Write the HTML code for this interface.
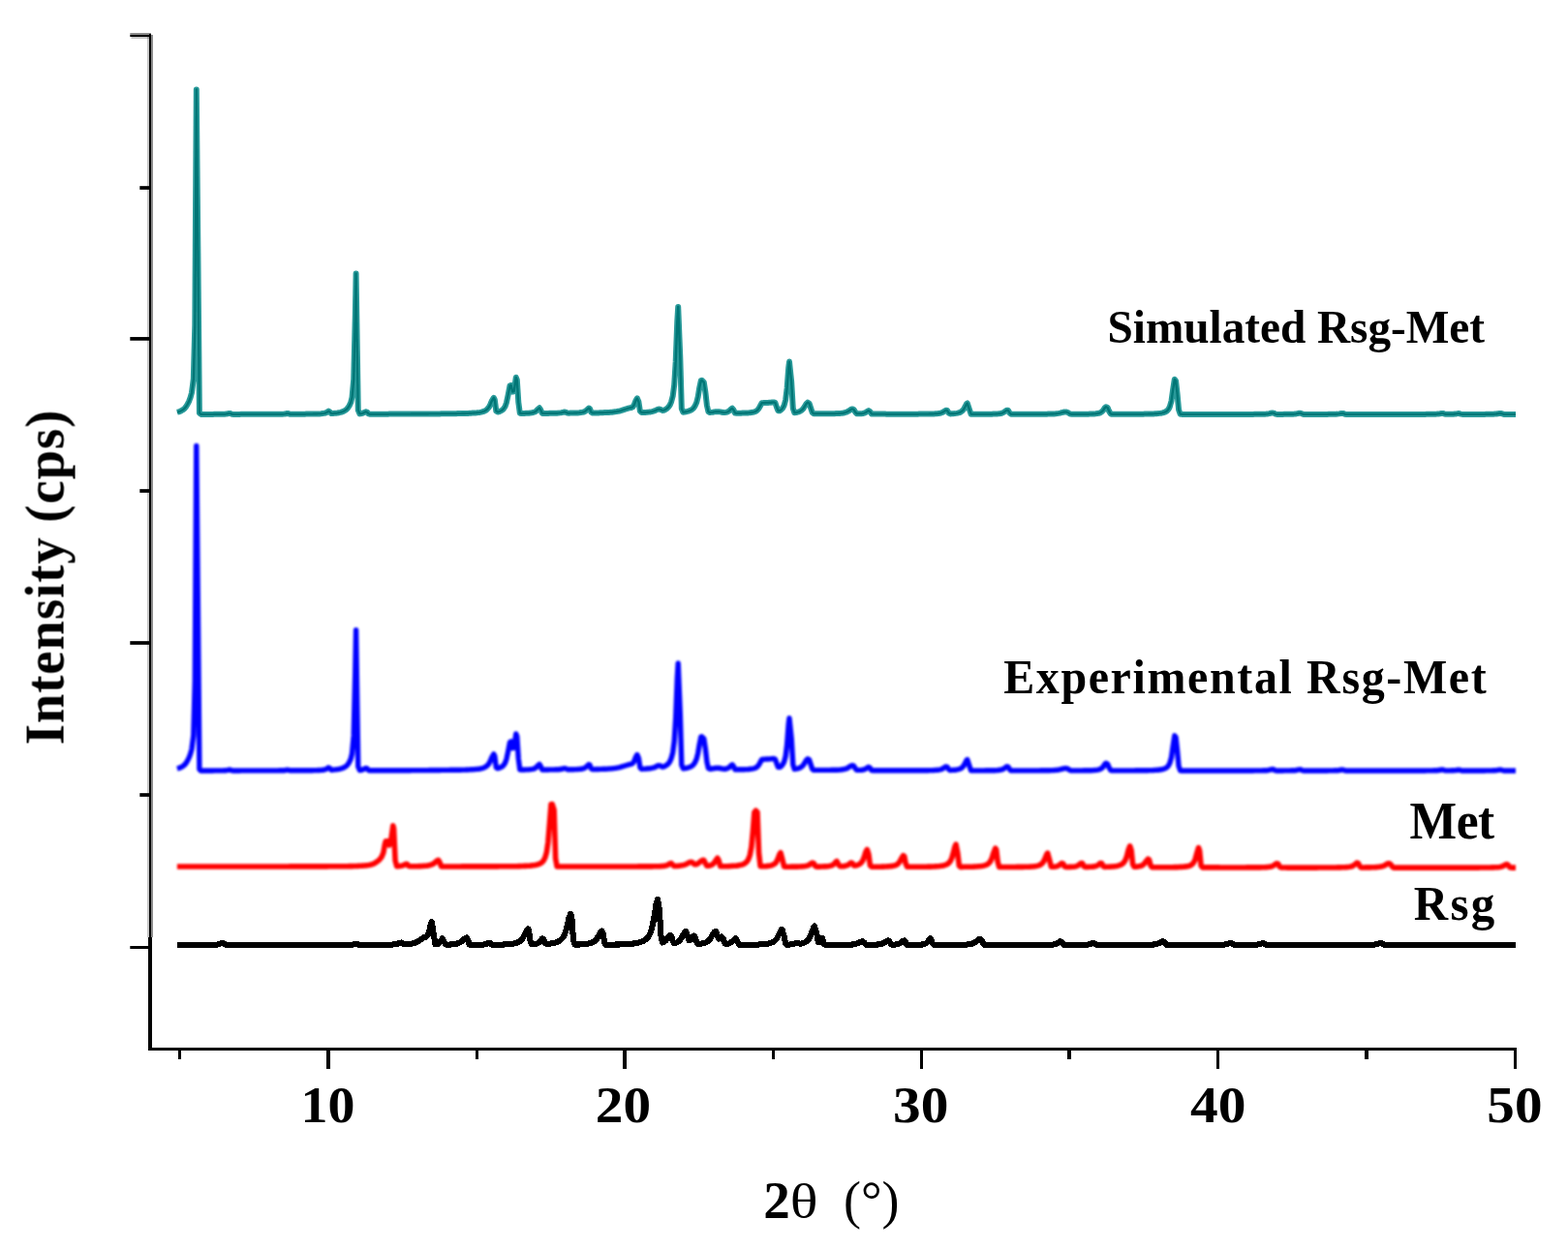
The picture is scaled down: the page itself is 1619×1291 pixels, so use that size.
<!DOCTYPE html>
<html lang="en">
<head>
<meta charset="utf-8">
<title>XRD patterns</title>
<style>
html,body{margin:0;padding:0;background:#fff;}
body{width:1619px;height:1291px;overflow:hidden;}
svg{display:block;}
text{font-family:"Liberation Serif",serif;font-weight:bold;fill:#000;}
.c path{fill:none;stroke-linejoin:round;stroke-linecap:butt;}
</style>
</head>
<body>
<svg width="1619" height="1291" viewBox="0 0 1619 1291">
<rect x="0" y="0" width="1619" height="1291" fill="#ffffff"/>
<g stroke="#000" fill="none" stroke-linecap="butt">
<line x1="153" y1="36.8" x2="153" y2="968" stroke-width="2" stroke-opacity="0.22"/>
<line x1="155" y1="34.9" x2="155" y2="968" stroke-width="2"/>
<line x1="157" y1="36" x2="157" y2="968" stroke-width="2" stroke-opacity="0.45"/>
<line x1="155" y1="968" x2="155" y2="1085" stroke-width="4" shape-rendering="crispEdges"/>
<line x1="153" y1="1083.5" x2="1566" y2="1083.5" stroke-width="3" shape-rendering="crispEdges"/>
<line x1="339.0" y1="1084" x2="339.0" y2="1104.2" stroke-width="3.5" shape-rendering="crispEdges"/>
<line x1="645.0" y1="1084" x2="645.0" y2="1104.2" stroke-width="3.5" shape-rendering="crispEdges"/>
<line x1="951.6" y1="1084" x2="951.6" y2="1104.2" stroke-width="3.5" shape-rendering="crispEdges"/>
<line x1="1257.5" y1="1084" x2="1257.5" y2="1104.2" stroke-width="3.5" shape-rendering="crispEdges"/>
<line x1="1564.5" y1="1084" x2="1564.5" y2="1104.2" stroke-width="3.5" shape-rendering="crispEdges"/>
<line x1="185.5" y1="1084" x2="185.5" y2="1093.6" stroke-width="3.4" shape-rendering="crispEdges"/>
<line x1="492.5" y1="1084" x2="492.5" y2="1093.6" stroke-width="3.4" shape-rendering="crispEdges"/>
<line x1="798.6" y1="1084" x2="798.6" y2="1093.6" stroke-width="3.4" shape-rendering="crispEdges"/>
<line x1="1104.1" y1="1084" x2="1104.1" y2="1093.6" stroke-width="3.4" shape-rendering="crispEdges"/>
<line x1="1411.0" y1="1084" x2="1411.0" y2="1093.6" stroke-width="3.4" shape-rendering="crispEdges"/>
<line x1="134.3" y1="35.0" x2="156" y2="35.0" stroke-width="2" stroke-opacity="0.45"/>
<line x1="134.3" y1="37.0" x2="156" y2="37.0" stroke-width="2"/>
<line x1="135.5" y1="39.0" x2="154" y2="39.0" stroke-width="2" stroke-opacity="0.22"/>
<line x1="134.3" y1="349.9" x2="155" y2="349.9" stroke-width="3.7"/>
<line x1="134.3" y1="664.0" x2="155" y2="664.0" stroke-width="3.7"/>
<line x1="134.3" y1="978.5" x2="155" y2="978.5" stroke-width="3"/>
<line x1="144.3" y1="194.0" x2="155" y2="194.0" stroke-width="3.7"/>
<line x1="144.3" y1="507.0" x2="155" y2="507.0" stroke-width="3.7"/>
<line x1="144.3" y1="821.0" x2="155" y2="821.0" stroke-width="3.7"/>
</g>
<defs>
<filter id="soft" filterUnits="userSpaceOnUse" x="0" y="0" width="1619" height="1291"><feGaussianBlur stdDeviation="0.9"/></filter>
<filter id="soft2" filterUnits="userSpaceOnUse" x="0" y="0" width="1619" height="1291"><feGaussianBlur stdDeviation="0.45"/></filter>
</defs>
<g class="c">
<g filter="url(#soft2)">
<path d="M182.9,425.7 L184.4,425.3 L186.0,424.8 L187.5,424.0 L189.0,423.1 L190.6,421.8 L192.1,420.0 L193.6,417.5 L195.2,414.3 L196.7,410.3 L198.0,405.5 L199.8,391.3 L201.3,335.7 L202.8,92.4 L204.4,261.0 L205.9,426.5 L207.4,427.9 L208.9,427.9 L210.5,427.9 L212.0,427.9 L213.5,427.9 L215.1,427.9 L216.6,427.9 L218.1,427.9 L219.7,427.9 L221.2,427.8 L222.7,427.8 L224.3,427.8 L225.8,427.8 L227.3,427.8 L228.9,427.8 L230.4,427.8 L231.9,427.7 L233.5,427.6 L235.0,427.3 L236.5,426.9 L238.1,427.1 L239.6,427.8 L241.1,427.9 L242.7,427.9 L244.2,427.9 L245.7,427.9 L247.3,427.9 L248.8,427.8 L250.3,427.8 L251.8,427.8 L253.4,427.8 L254.9,427.8 L256.4,427.8 L258.0,427.8 L259.5,427.8 L261.0,427.8 L262.6,427.8 L264.1,427.8 L265.6,427.8 L267.2,427.8 L268.7,427.8 L270.2,427.8 L271.8,427.8 L273.3,427.8 L274.8,427.8 L276.4,427.8 L277.9,427.8 L279.4,427.8 L281.0,427.8 L282.5,427.8 L284.0,427.8 L285.6,427.8 L287.1,427.8 L288.6,427.7 L290.2,427.7 L291.7,427.7 L293.2,427.6 L294.8,427.4 L296.3,427.0 L297.8,427.1 L299.3,427.7 L300.9,427.7 L302.4,427.7 L303.9,427.7 L305.5,427.7 L307.0,427.7 L308.5,427.7 L310.1,427.7 L311.6,427.7 L313.1,427.7 L314.7,427.7 L316.2,427.6 L317.7,427.6 L319.3,427.6 L320.8,427.6 L322.3,427.6 L323.9,427.5 L325.4,427.5 L326.9,427.5 L328.5,427.4 L330.0,427.4 L331.5,427.3 L333.1,427.1 L334.6,426.9 L336.1,426.5 L337.7,425.7 L339.2,424.6 L340.7,425.5 L342.2,427.1 L343.8,427.0 L345.3,426.8 L346.8,426.7 L348.4,426.5 L349.9,426.2 L351.4,425.9 L353.0,425.5 L354.5,424.9 L356.0,424.1 L357.6,423.0 L359.1,421.4 L360.6,419.1 L362.2,415.7 L363.5,410.4 L365.2,391.8 L366.8,325.8 L367.6,282.5 L369.8,423.6 L371.4,427.4 L372.9,427.2 L374.4,426.8 L376.0,426.1 L377.5,425.3 L379.0,425.6 L380.6,427.4 L382.1,427.7 L383.6,427.7 L385.2,427.7 L386.7,427.7 L388.2,427.7 L389.7,427.7 L391.3,427.7 L392.8,427.7 L394.3,427.7 L395.9,427.7 L397.4,427.7 L398.9,427.7 L400.5,427.7 L402.0,427.6 L403.5,427.6 L405.1,427.6 L406.6,427.6 L408.1,427.6 L409.7,427.6 L411.2,427.6 L412.7,427.6 L414.3,427.6 L415.8,427.6 L417.3,427.6 L418.9,427.6 L420.4,427.6 L421.9,427.6 L423.5,427.6 L425.0,427.5 L426.5,427.5 L428.1,427.5 L429.6,427.5 L431.1,427.5 L432.6,427.5 L434.2,427.5 L435.7,427.5 L437.2,427.5 L438.8,427.5 L440.3,427.5 L441.8,427.5 L443.4,427.4 L444.9,427.4 L446.4,427.4 L448.0,427.4 L449.5,427.4 L451.0,427.4 L452.6,427.4 L454.1,427.4 L455.6,427.3 L457.2,427.3 L458.7,427.3 L460.2,427.3 L461.8,427.3 L463.3,427.3 L464.8,427.2 L466.4,427.2 L467.9,427.2 L469.4,427.2 L471.0,427.2 L472.5,427.1 L474.0,427.1 L475.6,427.1 L477.1,427.0 L478.6,427.0 L480.1,427.0 L481.7,426.9 L483.2,426.9 L484.7,426.8 L486.3,426.7 L487.8,426.6 L489.3,426.5 L490.9,426.4 L492.4,426.3 L493.9,426.1 L495.5,425.9 L497.0,425.6 L498.5,425.2 L500.1,424.6 L501.6,423.8 L503.1,422.6 L504.7,420.8 L506.2,418.0 L507.7,414.3 L509.8,410.8 L510.8,412.8 L512.3,424.5 L513.9,425.5 L515.4,425.1 L516.9,424.5 L518.5,423.6 L520.0,422.2 L521.5,419.9 L523.0,415.7 L524.6,408.1 L526.5,398.4 L527.6,397.8 L529.2,404.6 L530.7,404.1 L532.8,389.8 L533.8,392.3 L535.3,415.4 L536.8,426.7 L538.4,427.0 L539.9,426.9 L541.4,426.9 L543.0,426.8 L544.5,426.8 L546.0,426.7 L547.6,426.5 L549.1,426.3 L550.6,426.0 L552.2,425.5 L553.7,424.5 L555.2,422.8 L557.0,421.3 L558.3,423.4 L559.8,426.9 L561.4,426.9 L562.9,426.9 L564.4,426.9 L565.9,426.9 L567.5,426.8 L569.0,426.8 L570.5,426.8 L572.1,426.8 L573.6,426.7 L575.1,426.7 L576.7,426.6 L578.2,426.4 L579.7,426.2 L581.3,425.8 L582.8,425.4 L584.3,425.8 L585.9,426.6 L587.4,426.7 L588.9,426.6 L590.5,426.6 L592.0,426.6 L593.5,426.5 L595.1,426.5 L596.6,426.4 L598.1,426.3 L599.7,426.1 L601.2,425.9 L602.7,425.5 L604.3,424.7 L605.8,423.4 L608.0,421.5 L608.9,421.9 L610.4,425.7 L611.9,426.5 L613.4,426.5 L615.0,426.4 L616.5,426.4 L618.0,426.4 L619.6,426.3 L621.1,426.3 L622.6,426.2 L624.2,426.1 L625.7,426.1 L627.2,426.0 L628.8,425.9 L630.3,425.8 L631.8,425.7 L633.4,425.5 L634.9,425.3 L636.4,425.1 L638.0,424.8 L639.5,424.5 L641.0,424.1 L642.6,423.6 L644.1,423.1 L645.6,422.6 L647.2,422.2 L648.7,421.7 L650.2,421.3 L651.8,421.0 L653.3,420.3 L654.8,418.0 L656.3,414.0 L657.9,411.4 L659.4,414.9 L660.9,424.6 L662.5,426.1 L664.0,426.0 L665.5,426.0 L667.1,425.9 L668.6,425.7 L670.1,425.6 L671.7,425.4 L673.2,425.1 L674.7,424.7 L676.3,424.2 L677.8,423.4 L679.3,422.7 L680.9,422.5 L682.4,423.1 L683.9,423.9 L685.5,423.7 L687.0,423.0 L688.5,422.0 L690.1,420.6 L691.6,418.5 L693.1,415.1 L694.7,409.1 L696.2,397.5 L697.7,373.4 L699.3,331.7 L700.2,316.9 L702.3,369.1 L703.8,422.0 L705.4,425.7 L706.9,425.5 L708.4,425.2 L710.0,424.9 L711.5,424.4 L713.0,423.8 L714.6,422.9 L716.1,421.5 L717.6,419.3 L719.2,415.8 L720.7,409.7 L722.2,400.6 L723.8,393.0 L724.6,392.7 L726.8,394.9 L728.4,405.3 L729.9,418.7 L731.4,425.2 L733.0,426.1 L734.5,425.9 L736.0,425.7 L737.6,425.4 L739.1,425.2 L740.6,425.2 L742.2,425.2 L743.7,425.4 L745.2,425.7 L746.7,426.0 L748.3,426.1 L749.8,425.9 L751.3,425.4 L752.9,424.5 L754.4,422.9 L756.0,421.7 L757.5,423.5 L759.0,426.6 L760.5,426.8 L762.1,426.7 L763.6,426.7 L765.1,426.7 L766.7,426.6 L768.2,426.6 L769.7,426.5 L771.3,426.5 L772.8,426.4 L774.3,426.2 L775.9,426.0 L777.4,425.8 L778.9,425.4 L780.5,424.8 L782.0,423.7 L783.5,421.9 L785.1,419.0 L786.6,416.3 L788.1,416.1 L789.7,416.0 L791.2,415.9 L793.0,415.9 L794.2,415.8 L795.8,415.7 L797.3,415.5 L798.8,415.4 L800.4,415.9 L801.9,420.4 L803.4,424.2 L805.0,424.3 L806.5,423.3 L808.0,421.7 L809.6,418.8 L811.1,413.2 L812.6,401.0 L814.2,379.8 L815.0,373.6 L817.2,394.6 L818.8,421.8 L820.3,426.2 L821.8,426.0 L823.4,425.7 L824.9,425.3 L826.4,424.6 L828.0,423.5 L829.5,421.9 L831.0,419.5 L832.6,416.9 L834.0,415.6 L835.6,416.7 L837.1,421.3 L838.7,426.0 L840.2,427.3 L841.7,427.3 L843.3,427.3 L844.8,427.3 L846.3,427.3 L847.9,427.3 L849.4,427.3 L850.9,427.3 L852.5,427.3 L854.0,427.3 L855.5,427.3 L857.1,427.3 L858.6,427.2 L860.1,427.2 L861.7,427.2 L863.2,427.1 L864.7,427.1 L866.3,427.0 L867.8,426.9 L869.3,426.7 L870.9,426.5 L872.4,426.1 L873.9,425.7 L875.5,424.9 L877.0,423.9 L878.5,422.9 L880.0,422.4 L881.6,423.0 L883.1,425.6 L884.6,427.2 L886.2,427.3 L887.7,427.3 L889.2,427.2 L890.8,427.0 L892.3,426.6 L893.8,426.0 L895.4,424.9 L896.9,424.1 L898.4,425.2 L900.0,427.5 L901.5,427.6 L903.0,427.6 L904.6,427.6 L906.1,427.6 L907.6,427.6 L909.2,427.6 L910.7,427.6 L912.2,427.6 L913.8,427.6 L915.3,427.7 L916.8,427.7 L918.4,427.7 L919.9,427.7 L921.4,427.7 L923.0,427.7 L924.5,427.7 L926.0,427.7 L927.5,427.7 L929.1,427.7 L930.6,427.7 L932.1,427.7 L933.7,427.7 L935.2,427.7 L936.7,427.7 L938.3,427.7 L939.8,427.7 L941.3,427.7 L942.9,427.7 L944.4,427.7 L945.9,427.7 L947.5,427.7 L949.0,427.6 L950.5,427.6 L952.1,427.6 L953.6,427.6 L955.1,427.6 L956.7,427.6 L958.2,427.6 L959.7,427.5 L961.3,427.5 L962.8,427.5 L964.3,427.4 L965.9,427.3 L967.4,427.2 L968.9,427.1 L970.5,426.8 L972.0,426.4 L973.5,425.7 L975.0,424.7 L976.6,423.7 L978.1,424.0 L979.6,426.6 L981.2,427.4 L982.7,427.3 L984.2,427.2 L985.8,427.1 L987.3,426.9 L988.8,426.6 L990.4,426.2 L991.9,425.6 L993.4,424.6 L995.0,422.8 L996.5,420.0 L998.0,417.0 L998.8,416.5 L1001.1,423.4 L1002.6,427.7 L1004.2,427.8 L1005.7,427.8 L1007.2,427.8 L1008.8,427.8 L1010.3,427.8 L1011.8,427.8 L1013.4,427.8 L1014.9,427.8 L1016.4,427.8 L1017.9,427.7 L1019.5,427.7 L1021.0,427.7 L1022.5,427.7 L1024.1,427.7 L1025.6,427.6 L1027.1,427.6 L1028.7,427.5 L1030.2,427.4 L1031.7,427.2 L1033.3,427.0 L1034.8,426.6 L1036.3,425.9 L1037.9,424.8 L1039.4,423.7 L1040.9,423.8 L1042.5,426.5 L1044.0,427.8 L1045.5,427.8 L1047.1,427.8 L1048.6,427.8 L1050.1,427.8 L1051.7,427.8 L1053.2,427.8 L1054.7,427.8 L1056.3,427.8 L1057.8,427.8 L1059.3,427.8 L1060.9,427.8 L1062.4,427.8 L1063.9,427.8 L1065.4,427.8 L1067.0,427.8 L1068.5,427.8 L1070.0,427.8 L1071.6,427.8 L1073.1,427.8 L1074.6,427.7 L1076.2,427.7 L1077.7,427.7 L1079.2,427.7 L1080.8,427.7 L1082.3,427.6 L1083.8,427.6 L1085.4,427.5 L1086.9,427.5 L1088.4,427.4 L1090.0,427.3 L1091.5,427.1 L1093.0,426.9 L1094.6,426.6 L1096.1,426.2 L1097.6,425.8 L1099.2,425.5 L1100.7,425.4 L1102.2,425.8 L1103.8,426.8 L1105.3,427.6 L1106.8,427.8 L1108.3,427.8 L1109.9,427.8 L1111.4,427.8 L1112.9,427.8 L1114.5,427.8 L1116.0,427.8 L1117.5,427.8 L1119.1,427.7 L1120.6,427.7 L1122.1,427.7 L1123.7,427.7 L1125.2,427.6 L1126.7,427.6 L1128.3,427.5 L1129.8,427.4 L1131.3,427.3 L1132.9,427.1 L1134.4,426.8 L1135.9,426.3 L1137.5,425.4 L1139.0,423.9 L1140.5,421.5 L1141.9,420.2 L1143.6,421.0 L1145.1,424.6 L1146.7,427.3 L1148.2,427.8 L1149.7,427.8 L1151.3,427.8 L1152.8,427.8 L1154.3,427.8 L1155.8,427.8 L1157.4,427.8 L1158.9,427.8 L1160.4,427.8 L1162.0,427.8 L1163.5,427.8 L1165.0,427.8 L1166.6,427.8 L1168.1,427.8 L1169.6,427.8 L1171.2,427.8 L1172.7,427.7 L1174.2,427.7 L1175.8,427.7 L1177.3,427.7 L1178.8,427.7 L1180.4,427.7 L1181.9,427.6 L1183.4,427.6 L1185.0,427.6 L1186.5,427.5 L1188.0,427.5 L1189.6,427.5 L1191.1,427.4 L1192.6,427.3 L1194.2,427.2 L1195.7,427.1 L1197.2,426.9 L1198.7,426.7 L1200.3,426.4 L1201.8,426.0 L1203.3,425.4 L1204.9,424.4 L1206.4,422.8 L1207.9,419.8 L1209.5,414.2 L1211.0,403.4 L1212.8,391.7 L1214.1,393.5 L1215.6,407.2 L1217.1,423.3 L1218.7,427.7 L1220.2,427.9 L1221.7,427.9 L1223.3,427.9 L1224.8,427.9 L1226.3,427.9 L1227.9,427.9 L1229.4,427.9 L1230.9,427.9 L1232.5,427.9 L1234.0,427.9 L1235.5,427.9 L1237.1,427.9 L1238.6,427.9 L1240.1,427.9 L1241.7,427.9 L1243.2,427.9 L1244.7,427.9 L1246.2,427.9 L1247.8,427.9 L1249.3,427.9 L1250.8,427.9 L1252.4,427.9 L1253.9,427.9 L1255.4,427.9 L1257.0,427.9 L1258.5,427.9 L1260.0,427.9 L1261.6,427.9 L1263.1,427.9 L1264.6,427.9 L1266.2,427.9 L1267.7,427.9 L1269.2,427.9 L1270.8,427.9 L1272.3,427.9 L1273.8,427.9 L1275.4,427.9 L1276.9,427.9 L1278.4,427.9 L1280.0,427.9 L1281.5,427.9 L1283.0,427.9 L1284.6,427.9 L1286.1,427.9 L1287.6,427.9 L1289.1,427.9 L1290.7,427.9 L1292.2,427.9 L1293.7,427.9 L1295.3,427.8 L1296.8,427.8 L1298.3,427.8 L1299.9,427.8 L1301.4,427.8 L1302.9,427.8 L1304.5,427.7 L1306.0,427.7 L1307.5,427.6 L1309.1,427.4 L1310.6,427.1 L1312.1,426.7 L1313.7,426.4 L1315.2,426.6 L1316.7,427.6 L1318.3,427.9 L1319.8,427.9 L1321.3,427.9 L1322.9,427.9 L1324.4,427.9 L1325.9,427.8 L1327.5,427.8 L1329.0,427.8 L1330.5,427.8 L1332.1,427.8 L1333.6,427.7 L1335.1,427.7 L1336.6,427.6 L1338.2,427.4 L1339.7,427.1 L1341.2,426.8 L1342.8,426.7 L1344.3,427.4 L1345.8,427.9 L1347.4,427.9 L1348.9,427.9 L1350.4,427.9 L1352.0,427.9 L1353.5,427.9 L1355.0,427.9 L1356.6,427.9 L1358.1,427.9 L1359.6,427.9 L1361.2,427.9 L1362.7,427.9 L1364.2,427.9 L1365.8,427.9 L1367.3,427.9 L1368.8,427.9 L1370.4,427.9 L1371.9,427.8 L1373.4,427.8 L1375.0,427.8 L1376.5,427.8 L1378.0,427.7 L1379.5,427.7 L1381.1,427.6 L1382.6,427.4 L1384.1,427.1 L1385.7,426.9 L1387.2,427.0 L1388.7,427.7 L1390.3,427.9 L1391.8,427.9 L1393.3,427.9 L1394.9,427.9 L1396.4,427.9 L1397.9,427.9 L1399.5,427.9 L1401.0,427.9 L1402.5,427.9 L1404.1,427.9 L1405.6,427.9 L1407.1,427.9 L1408.7,427.9 L1410.2,427.9 L1411.7,427.9 L1413.3,427.9 L1414.8,427.9 L1416.3,427.9 L1417.9,427.9 L1419.4,427.9 L1420.9,427.9 L1422.4,427.9 L1424.0,427.9 L1425.5,427.9 L1427.0,427.9 L1428.6,427.9 L1430.1,427.9 L1431.6,427.9 L1433.2,427.9 L1434.7,427.9 L1436.2,427.9 L1437.8,427.9 L1439.3,427.9 L1440.8,427.9 L1442.4,427.9 L1443.9,427.9 L1445.4,427.9 L1447.0,427.9 L1448.5,427.9 L1450.0,427.9 L1451.6,427.9 L1453.1,427.9 L1454.6,427.9 L1456.2,427.9 L1457.7,427.9 L1459.2,427.9 L1460.8,427.9 L1462.3,427.9 L1463.8,427.9 L1465.4,427.9 L1466.9,427.9 L1468.4,427.9 L1469.9,427.9 L1471.5,427.9 L1473.0,427.8 L1474.5,427.8 L1476.1,427.8 L1477.6,427.8 L1479.1,427.8 L1480.7,427.7 L1482.2,427.7 L1483.7,427.6 L1485.3,427.4 L1486.8,427.2 L1488.3,426.9 L1489.9,426.9 L1491.4,427.5 L1492.9,427.8 L1494.5,427.8 L1496.0,427.8 L1497.5,427.8 L1499.1,427.7 L1500.6,427.7 L1502.1,427.5 L1503.7,427.4 L1505.2,427.1 L1506.7,427.1 L1508.3,427.6 L1509.8,427.9 L1511.3,427.9 L1512.8,427.9 L1514.4,427.9 L1515.9,427.9 L1517.4,427.9 L1519.0,427.9 L1520.5,427.9 L1522.0,427.9 L1523.6,427.9 L1525.1,427.9 L1526.6,427.9 L1528.2,427.9 L1529.7,427.9 L1531.2,427.9 L1532.8,427.9 L1534.3,427.8 L1535.8,427.8 L1537.4,427.8 L1538.9,427.8 L1540.4,427.8 L1542.0,427.7 L1543.5,427.6 L1545.0,427.5 L1546.6,427.2 L1548.1,427.0 L1549.6,426.9 L1551.2,427.4 L1552.7,427.9 L1554.2,427.9 L1555.8,427.9 L1557.3,427.9 L1558.8,427.9 L1560.3,427.9 L1561.9,427.9 L1563.4,427.9 L1564.9,427.9 L1565.0,427.9" stroke="#2a9a9a" stroke-width="6"/>
<path d="M182.9,425.7 L184.4,425.3 L186.0,424.8 L187.5,424.0 L189.0,423.1 L190.6,421.8 L192.1,420.0 L193.6,417.5 L195.2,414.3 L196.7,410.3 L198.0,405.5 L199.8,391.3 L201.3,335.7 L202.8,92.4 L204.4,261.0 L205.9,426.5 L207.4,427.9 L208.9,427.9 L210.5,427.9 L212.0,427.9 L213.5,427.9 L215.1,427.9 L216.6,427.9 L218.1,427.9 L219.7,427.9 L221.2,427.8 L222.7,427.8 L224.3,427.8 L225.8,427.8 L227.3,427.8 L228.9,427.8 L230.4,427.8 L231.9,427.7 L233.5,427.6 L235.0,427.3 L236.5,426.9 L238.1,427.1 L239.6,427.8 L241.1,427.9 L242.7,427.9 L244.2,427.9 L245.7,427.9 L247.3,427.9 L248.8,427.8 L250.3,427.8 L251.8,427.8 L253.4,427.8 L254.9,427.8 L256.4,427.8 L258.0,427.8 L259.5,427.8 L261.0,427.8 L262.6,427.8 L264.1,427.8 L265.6,427.8 L267.2,427.8 L268.7,427.8 L270.2,427.8 L271.8,427.8 L273.3,427.8 L274.8,427.8 L276.4,427.8 L277.9,427.8 L279.4,427.8 L281.0,427.8 L282.5,427.8 L284.0,427.8 L285.6,427.8 L287.1,427.8 L288.6,427.7 L290.2,427.7 L291.7,427.7 L293.2,427.6 L294.8,427.4 L296.3,427.0 L297.8,427.1 L299.3,427.7 L300.9,427.7 L302.4,427.7 L303.9,427.7 L305.5,427.7 L307.0,427.7 L308.5,427.7 L310.1,427.7 L311.6,427.7 L313.1,427.7 L314.7,427.7 L316.2,427.6 L317.7,427.6 L319.3,427.6 L320.8,427.6 L322.3,427.6 L323.9,427.5 L325.4,427.5 L326.9,427.5 L328.5,427.4 L330.0,427.4 L331.5,427.3 L333.1,427.1 L334.6,426.9 L336.1,426.5 L337.7,425.7 L339.2,424.6 L340.7,425.5 L342.2,427.1 L343.8,427.0 L345.3,426.8 L346.8,426.7 L348.4,426.5 L349.9,426.2 L351.4,425.9 L353.0,425.5 L354.5,424.9 L356.0,424.1 L357.6,423.0 L359.1,421.4 L360.6,419.1 L362.2,415.7 L363.5,410.4 L365.2,391.8 L366.8,325.8 L367.6,282.5 L369.8,423.6 L371.4,427.4 L372.9,427.2 L374.4,426.8 L376.0,426.1 L377.5,425.3 L379.0,425.6 L380.6,427.4 L382.1,427.7 L383.6,427.7 L385.2,427.7 L386.7,427.7 L388.2,427.7 L389.7,427.7 L391.3,427.7 L392.8,427.7 L394.3,427.7 L395.9,427.7 L397.4,427.7 L398.9,427.7 L400.5,427.7 L402.0,427.6 L403.5,427.6 L405.1,427.6 L406.6,427.6 L408.1,427.6 L409.7,427.6 L411.2,427.6 L412.7,427.6 L414.3,427.6 L415.8,427.6 L417.3,427.6 L418.9,427.6 L420.4,427.6 L421.9,427.6 L423.5,427.6 L425.0,427.5 L426.5,427.5 L428.1,427.5 L429.6,427.5 L431.1,427.5 L432.6,427.5 L434.2,427.5 L435.7,427.5 L437.2,427.5 L438.8,427.5 L440.3,427.5 L441.8,427.5 L443.4,427.4 L444.9,427.4 L446.4,427.4 L448.0,427.4 L449.5,427.4 L451.0,427.4 L452.6,427.4 L454.1,427.4 L455.6,427.3 L457.2,427.3 L458.7,427.3 L460.2,427.3 L461.8,427.3 L463.3,427.3 L464.8,427.2 L466.4,427.2 L467.9,427.2 L469.4,427.2 L471.0,427.2 L472.5,427.1 L474.0,427.1 L475.6,427.1 L477.1,427.0 L478.6,427.0 L480.1,427.0 L481.7,426.9 L483.2,426.9 L484.7,426.8 L486.3,426.7 L487.8,426.6 L489.3,426.5 L490.9,426.4 L492.4,426.3 L493.9,426.1 L495.5,425.9 L497.0,425.6 L498.5,425.2 L500.1,424.6 L501.6,423.8 L503.1,422.6 L504.7,420.8 L506.2,418.0 L507.7,414.3 L509.8,410.8 L510.8,412.8 L512.3,424.5 L513.9,425.5 L515.4,425.1 L516.9,424.5 L518.5,423.6 L520.0,422.2 L521.5,419.9 L523.0,415.7 L524.6,408.1 L526.5,398.4 L527.6,397.8 L529.2,404.6 L530.7,404.1 L532.8,389.8 L533.8,392.3 L535.3,415.4 L536.8,426.7 L538.4,427.0 L539.9,426.9 L541.4,426.9 L543.0,426.8 L544.5,426.8 L546.0,426.7 L547.6,426.5 L549.1,426.3 L550.6,426.0 L552.2,425.5 L553.7,424.5 L555.2,422.8 L557.0,421.3 L558.3,423.4 L559.8,426.9 L561.4,426.9 L562.9,426.9 L564.4,426.9 L565.9,426.9 L567.5,426.8 L569.0,426.8 L570.5,426.8 L572.1,426.8 L573.6,426.7 L575.1,426.7 L576.7,426.6 L578.2,426.4 L579.7,426.2 L581.3,425.8 L582.8,425.4 L584.3,425.8 L585.9,426.6 L587.4,426.7 L588.9,426.6 L590.5,426.6 L592.0,426.6 L593.5,426.5 L595.1,426.5 L596.6,426.4 L598.1,426.3 L599.7,426.1 L601.2,425.9 L602.7,425.5 L604.3,424.7 L605.8,423.4 L608.0,421.5 L608.9,421.9 L610.4,425.7 L611.9,426.5 L613.4,426.5 L615.0,426.4 L616.5,426.4 L618.0,426.4 L619.6,426.3 L621.1,426.3 L622.6,426.2 L624.2,426.1 L625.7,426.1 L627.2,426.0 L628.8,425.9 L630.3,425.8 L631.8,425.7 L633.4,425.5 L634.9,425.3 L636.4,425.1 L638.0,424.8 L639.5,424.5 L641.0,424.1 L642.6,423.6 L644.1,423.1 L645.6,422.6 L647.2,422.2 L648.7,421.7 L650.2,421.3 L651.8,421.0 L653.3,420.3 L654.8,418.0 L656.3,414.0 L657.9,411.4 L659.4,414.9 L660.9,424.6 L662.5,426.1 L664.0,426.0 L665.5,426.0 L667.1,425.9 L668.6,425.7 L670.1,425.6 L671.7,425.4 L673.2,425.1 L674.7,424.7 L676.3,424.2 L677.8,423.4 L679.3,422.7 L680.9,422.5 L682.4,423.1 L683.9,423.9 L685.5,423.7 L687.0,423.0 L688.5,422.0 L690.1,420.6 L691.6,418.5 L693.1,415.1 L694.7,409.1 L696.2,397.5 L697.7,373.4 L699.3,331.7 L700.2,316.9 L702.3,369.1 L703.8,422.0 L705.4,425.7 L706.9,425.5 L708.4,425.2 L710.0,424.9 L711.5,424.4 L713.0,423.8 L714.6,422.9 L716.1,421.5 L717.6,419.3 L719.2,415.8 L720.7,409.7 L722.2,400.6 L723.8,393.0 L724.6,392.7 L726.8,394.9 L728.4,405.3 L729.9,418.7 L731.4,425.2 L733.0,426.1 L734.5,425.9 L736.0,425.7 L737.6,425.4 L739.1,425.2 L740.6,425.2 L742.2,425.2 L743.7,425.4 L745.2,425.7 L746.7,426.0 L748.3,426.1 L749.8,425.9 L751.3,425.4 L752.9,424.5 L754.4,422.9 L756.0,421.7 L757.5,423.5 L759.0,426.6 L760.5,426.8 L762.1,426.7 L763.6,426.7 L765.1,426.7 L766.7,426.6 L768.2,426.6 L769.7,426.5 L771.3,426.5 L772.8,426.4 L774.3,426.2 L775.9,426.0 L777.4,425.8 L778.9,425.4 L780.5,424.8 L782.0,423.7 L783.5,421.9 L785.1,419.0 L786.6,416.3 L788.1,416.1 L789.7,416.0 L791.2,415.9 L793.0,415.9 L794.2,415.8 L795.8,415.7 L797.3,415.5 L798.8,415.4 L800.4,415.9 L801.9,420.4 L803.4,424.2 L805.0,424.3 L806.5,423.3 L808.0,421.7 L809.6,418.8 L811.1,413.2 L812.6,401.0 L814.2,379.8 L815.0,373.6 L817.2,394.6 L818.8,421.8 L820.3,426.2 L821.8,426.0 L823.4,425.7 L824.9,425.3 L826.4,424.6 L828.0,423.5 L829.5,421.9 L831.0,419.5 L832.6,416.9 L834.0,415.6 L835.6,416.7 L837.1,421.3 L838.7,426.0 L840.2,427.3 L841.7,427.3 L843.3,427.3 L844.8,427.3 L846.3,427.3 L847.9,427.3 L849.4,427.3 L850.9,427.3 L852.5,427.3 L854.0,427.3 L855.5,427.3 L857.1,427.3 L858.6,427.2 L860.1,427.2 L861.7,427.2 L863.2,427.1 L864.7,427.1 L866.3,427.0 L867.8,426.9 L869.3,426.7 L870.9,426.5 L872.4,426.1 L873.9,425.7 L875.5,424.9 L877.0,423.9 L878.5,422.9 L880.0,422.4 L881.6,423.0 L883.1,425.6 L884.6,427.2 L886.2,427.3 L887.7,427.3 L889.2,427.2 L890.8,427.0 L892.3,426.6 L893.8,426.0 L895.4,424.9 L896.9,424.1 L898.4,425.2 L900.0,427.5 L901.5,427.6 L903.0,427.6 L904.6,427.6 L906.1,427.6 L907.6,427.6 L909.2,427.6 L910.7,427.6 L912.2,427.6 L913.8,427.6 L915.3,427.7 L916.8,427.7 L918.4,427.7 L919.9,427.7 L921.4,427.7 L923.0,427.7 L924.5,427.7 L926.0,427.7 L927.5,427.7 L929.1,427.7 L930.6,427.7 L932.1,427.7 L933.7,427.7 L935.2,427.7 L936.7,427.7 L938.3,427.7 L939.8,427.7 L941.3,427.7 L942.9,427.7 L944.4,427.7 L945.9,427.7 L947.5,427.7 L949.0,427.6 L950.5,427.6 L952.1,427.6 L953.6,427.6 L955.1,427.6 L956.7,427.6 L958.2,427.6 L959.7,427.5 L961.3,427.5 L962.8,427.5 L964.3,427.4 L965.9,427.3 L967.4,427.2 L968.9,427.1 L970.5,426.8 L972.0,426.4 L973.5,425.7 L975.0,424.7 L976.6,423.7 L978.1,424.0 L979.6,426.6 L981.2,427.4 L982.7,427.3 L984.2,427.2 L985.8,427.1 L987.3,426.9 L988.8,426.6 L990.4,426.2 L991.9,425.6 L993.4,424.6 L995.0,422.8 L996.5,420.0 L998.0,417.0 L998.8,416.5 L1001.1,423.4 L1002.6,427.7 L1004.2,427.8 L1005.7,427.8 L1007.2,427.8 L1008.8,427.8 L1010.3,427.8 L1011.8,427.8 L1013.4,427.8 L1014.9,427.8 L1016.4,427.8 L1017.9,427.7 L1019.5,427.7 L1021.0,427.7 L1022.5,427.7 L1024.1,427.7 L1025.6,427.6 L1027.1,427.6 L1028.7,427.5 L1030.2,427.4 L1031.7,427.2 L1033.3,427.0 L1034.8,426.6 L1036.3,425.9 L1037.9,424.8 L1039.4,423.7 L1040.9,423.8 L1042.5,426.5 L1044.0,427.8 L1045.5,427.8 L1047.1,427.8 L1048.6,427.8 L1050.1,427.8 L1051.7,427.8 L1053.2,427.8 L1054.7,427.8 L1056.3,427.8 L1057.8,427.8 L1059.3,427.8 L1060.9,427.8 L1062.4,427.8 L1063.9,427.8 L1065.4,427.8 L1067.0,427.8 L1068.5,427.8 L1070.0,427.8 L1071.6,427.8 L1073.1,427.8 L1074.6,427.7 L1076.2,427.7 L1077.7,427.7 L1079.2,427.7 L1080.8,427.7 L1082.3,427.6 L1083.8,427.6 L1085.4,427.5 L1086.9,427.5 L1088.4,427.4 L1090.0,427.3 L1091.5,427.1 L1093.0,426.9 L1094.6,426.6 L1096.1,426.2 L1097.6,425.8 L1099.2,425.5 L1100.7,425.4 L1102.2,425.8 L1103.8,426.8 L1105.3,427.6 L1106.8,427.8 L1108.3,427.8 L1109.9,427.8 L1111.4,427.8 L1112.9,427.8 L1114.5,427.8 L1116.0,427.8 L1117.5,427.8 L1119.1,427.7 L1120.6,427.7 L1122.1,427.7 L1123.7,427.7 L1125.2,427.6 L1126.7,427.6 L1128.3,427.5 L1129.8,427.4 L1131.3,427.3 L1132.9,427.1 L1134.4,426.8 L1135.9,426.3 L1137.5,425.4 L1139.0,423.9 L1140.5,421.5 L1141.9,420.2 L1143.6,421.0 L1145.1,424.6 L1146.7,427.3 L1148.2,427.8 L1149.7,427.8 L1151.3,427.8 L1152.8,427.8 L1154.3,427.8 L1155.8,427.8 L1157.4,427.8 L1158.9,427.8 L1160.4,427.8 L1162.0,427.8 L1163.5,427.8 L1165.0,427.8 L1166.6,427.8 L1168.1,427.8 L1169.6,427.8 L1171.2,427.8 L1172.7,427.7 L1174.2,427.7 L1175.8,427.7 L1177.3,427.7 L1178.8,427.7 L1180.4,427.7 L1181.9,427.6 L1183.4,427.6 L1185.0,427.6 L1186.5,427.5 L1188.0,427.5 L1189.6,427.5 L1191.1,427.4 L1192.6,427.3 L1194.2,427.2 L1195.7,427.1 L1197.2,426.9 L1198.7,426.7 L1200.3,426.4 L1201.8,426.0 L1203.3,425.4 L1204.9,424.4 L1206.4,422.8 L1207.9,419.8 L1209.5,414.2 L1211.0,403.4 L1212.8,391.7 L1214.1,393.5 L1215.6,407.2 L1217.1,423.3 L1218.7,427.7 L1220.2,427.9 L1221.7,427.9 L1223.3,427.9 L1224.8,427.9 L1226.3,427.9 L1227.9,427.9 L1229.4,427.9 L1230.9,427.9 L1232.5,427.9 L1234.0,427.9 L1235.5,427.9 L1237.1,427.9 L1238.6,427.9 L1240.1,427.9 L1241.7,427.9 L1243.2,427.9 L1244.7,427.9 L1246.2,427.9 L1247.8,427.9 L1249.3,427.9 L1250.8,427.9 L1252.4,427.9 L1253.9,427.9 L1255.4,427.9 L1257.0,427.9 L1258.5,427.9 L1260.0,427.9 L1261.6,427.9 L1263.1,427.9 L1264.6,427.9 L1266.2,427.9 L1267.7,427.9 L1269.2,427.9 L1270.8,427.9 L1272.3,427.9 L1273.8,427.9 L1275.4,427.9 L1276.9,427.9 L1278.4,427.9 L1280.0,427.9 L1281.5,427.9 L1283.0,427.9 L1284.6,427.9 L1286.1,427.9 L1287.6,427.9 L1289.1,427.9 L1290.7,427.9 L1292.2,427.9 L1293.7,427.9 L1295.3,427.8 L1296.8,427.8 L1298.3,427.8 L1299.9,427.8 L1301.4,427.8 L1302.9,427.8 L1304.5,427.7 L1306.0,427.7 L1307.5,427.6 L1309.1,427.4 L1310.6,427.1 L1312.1,426.7 L1313.7,426.4 L1315.2,426.6 L1316.7,427.6 L1318.3,427.9 L1319.8,427.9 L1321.3,427.9 L1322.9,427.9 L1324.4,427.9 L1325.9,427.8 L1327.5,427.8 L1329.0,427.8 L1330.5,427.8 L1332.1,427.8 L1333.6,427.7 L1335.1,427.7 L1336.6,427.6 L1338.2,427.4 L1339.7,427.1 L1341.2,426.8 L1342.8,426.7 L1344.3,427.4 L1345.8,427.9 L1347.4,427.9 L1348.9,427.9 L1350.4,427.9 L1352.0,427.9 L1353.5,427.9 L1355.0,427.9 L1356.6,427.9 L1358.1,427.9 L1359.6,427.9 L1361.2,427.9 L1362.7,427.9 L1364.2,427.9 L1365.8,427.9 L1367.3,427.9 L1368.8,427.9 L1370.4,427.9 L1371.9,427.8 L1373.4,427.8 L1375.0,427.8 L1376.5,427.8 L1378.0,427.7 L1379.5,427.7 L1381.1,427.6 L1382.6,427.4 L1384.1,427.1 L1385.7,426.9 L1387.2,427.0 L1388.7,427.7 L1390.3,427.9 L1391.8,427.9 L1393.3,427.9 L1394.9,427.9 L1396.4,427.9 L1397.9,427.9 L1399.5,427.9 L1401.0,427.9 L1402.5,427.9 L1404.1,427.9 L1405.6,427.9 L1407.1,427.9 L1408.7,427.9 L1410.2,427.9 L1411.7,427.9 L1413.3,427.9 L1414.8,427.9 L1416.3,427.9 L1417.9,427.9 L1419.4,427.9 L1420.9,427.9 L1422.4,427.9 L1424.0,427.9 L1425.5,427.9 L1427.0,427.9 L1428.6,427.9 L1430.1,427.9 L1431.6,427.9 L1433.2,427.9 L1434.7,427.9 L1436.2,427.9 L1437.8,427.9 L1439.3,427.9 L1440.8,427.9 L1442.4,427.9 L1443.9,427.9 L1445.4,427.9 L1447.0,427.9 L1448.5,427.9 L1450.0,427.9 L1451.6,427.9 L1453.1,427.9 L1454.6,427.9 L1456.2,427.9 L1457.7,427.9 L1459.2,427.9 L1460.8,427.9 L1462.3,427.9 L1463.8,427.9 L1465.4,427.9 L1466.9,427.9 L1468.4,427.9 L1469.9,427.9 L1471.5,427.9 L1473.0,427.8 L1474.5,427.8 L1476.1,427.8 L1477.6,427.8 L1479.1,427.8 L1480.7,427.7 L1482.2,427.7 L1483.7,427.6 L1485.3,427.4 L1486.8,427.2 L1488.3,426.9 L1489.9,426.9 L1491.4,427.5 L1492.9,427.8 L1494.5,427.8 L1496.0,427.8 L1497.5,427.8 L1499.1,427.7 L1500.6,427.7 L1502.1,427.5 L1503.7,427.4 L1505.2,427.1 L1506.7,427.1 L1508.3,427.6 L1509.8,427.9 L1511.3,427.9 L1512.8,427.9 L1514.4,427.9 L1515.9,427.9 L1517.4,427.9 L1519.0,427.9 L1520.5,427.9 L1522.0,427.9 L1523.6,427.9 L1525.1,427.9 L1526.6,427.9 L1528.2,427.9 L1529.7,427.9 L1531.2,427.9 L1532.8,427.9 L1534.3,427.8 L1535.8,427.8 L1537.4,427.8 L1538.9,427.8 L1540.4,427.8 L1542.0,427.7 L1543.5,427.6 L1545.0,427.5 L1546.6,427.2 L1548.1,427.0 L1549.6,426.9 L1551.2,427.4 L1552.7,427.9 L1554.2,427.9 L1555.8,427.9 L1557.3,427.9 L1558.8,427.9 L1560.3,427.9 L1561.9,427.9 L1563.4,427.9 L1564.9,427.9 L1565.0,427.9" stroke="#007676" stroke-width="2.4"/>
</g>
<path d="M182.9,793.8 L184.4,793.4 L186.0,792.9 L187.5,792.1 L189.0,791.2 L190.6,789.9 L192.1,788.1 L193.6,785.6 L195.2,782.4 L196.7,778.4 L198.0,773.6 L199.8,759.4 L201.3,703.8 L202.8,460.5 L204.4,629.1 L205.9,794.6 L207.4,796.0 L208.9,796.0 L210.5,796.0 L212.0,796.0 L213.5,796.0 L215.1,796.0 L216.6,796.0 L218.1,796.0 L219.7,796.0 L221.2,795.9 L222.7,795.9 L224.3,795.9 L225.8,795.9 L227.3,795.9 L228.9,795.9 L230.4,795.9 L231.9,795.8 L233.5,795.7 L235.0,795.4 L236.5,795.0 L238.1,795.2 L239.6,795.9 L241.1,796.0 L242.7,796.0 L244.2,796.0 L245.7,796.0 L247.3,796.0 L248.8,795.9 L250.3,795.9 L251.8,795.9 L253.4,795.9 L254.9,795.9 L256.4,795.9 L258.0,795.9 L259.5,795.9 L261.0,795.9 L262.6,795.9 L264.1,795.9 L265.6,795.9 L267.2,795.9 L268.7,795.9 L270.2,795.9 L271.8,795.9 L273.3,795.9 L274.8,795.9 L276.4,795.9 L277.9,795.9 L279.4,795.9 L281.0,795.9 L282.5,795.9 L284.0,795.9 L285.6,795.9 L287.1,795.9 L288.6,795.8 L290.2,795.8 L291.7,795.8 L293.2,795.7 L294.8,795.5 L296.3,795.1 L297.8,795.2 L299.3,795.8 L300.9,795.8 L302.4,795.8 L303.9,795.8 L305.5,795.8 L307.0,795.8 L308.5,795.8 L310.1,795.8 L311.6,795.8 L313.1,795.8 L314.7,795.8 L316.2,795.7 L317.7,795.7 L319.3,795.7 L320.8,795.7 L322.3,795.7 L323.9,795.6 L325.4,795.6 L326.9,795.6 L328.5,795.5 L330.0,795.5 L331.5,795.4 L333.1,795.2 L334.6,795.0 L336.1,794.6 L337.7,793.8 L339.2,792.7 L340.7,793.6 L342.2,795.2 L343.8,795.1 L345.3,794.9 L346.8,794.8 L348.4,794.6 L349.9,794.3 L351.4,794.0 L353.0,793.6 L354.5,793.0 L356.0,792.2 L357.6,791.1 L359.1,789.5 L360.6,787.2 L362.2,783.8 L363.5,778.5 L365.2,759.9 L366.8,693.9 L367.6,650.6 L369.8,791.7 L371.4,795.5 L372.9,795.3 L374.4,794.9 L376.0,794.2 L377.5,793.4 L379.0,793.7 L380.6,795.5 L382.1,795.8 L383.6,795.8 L385.2,795.8 L386.7,795.8 L388.2,795.8 L389.7,795.8 L391.3,795.8 L392.8,795.8 L394.3,795.8 L395.9,795.8 L397.4,795.8 L398.9,795.8 L400.5,795.8 L402.0,795.7 L403.5,795.7 L405.1,795.7 L406.6,795.7 L408.1,795.7 L409.7,795.7 L411.2,795.7 L412.7,795.7 L414.3,795.7 L415.8,795.7 L417.3,795.7 L418.9,795.7 L420.4,795.7 L421.9,795.7 L423.5,795.7 L425.0,795.6 L426.5,795.6 L428.1,795.6 L429.6,795.6 L431.1,795.6 L432.6,795.6 L434.2,795.6 L435.7,795.6 L437.2,795.6 L438.8,795.6 L440.3,795.6 L441.8,795.6 L443.4,795.5 L444.9,795.5 L446.4,795.5 L448.0,795.5 L449.5,795.5 L451.0,795.5 L452.6,795.5 L454.1,795.5 L455.6,795.4 L457.2,795.4 L458.7,795.4 L460.2,795.4 L461.8,795.4 L463.3,795.4 L464.8,795.3 L466.4,795.3 L467.9,795.3 L469.4,795.3 L471.0,795.3 L472.5,795.2 L474.0,795.2 L475.6,795.2 L477.1,795.1 L478.6,795.1 L480.1,795.1 L481.7,795.0 L483.2,795.0 L484.7,794.9 L486.3,794.8 L487.8,794.7 L489.3,794.6 L490.9,794.5 L492.4,794.4 L493.9,794.2 L495.5,794.0 L497.0,793.7 L498.5,793.3 L500.1,792.7 L501.6,791.9 L503.1,790.7 L504.7,788.9 L506.2,786.1 L507.7,782.4 L509.8,778.9 L510.8,780.9 L512.3,792.6 L513.9,793.6 L515.4,793.2 L516.9,792.6 L518.5,791.7 L520.0,790.3 L521.5,788.0 L523.0,783.8 L524.6,776.2 L526.5,766.5 L527.6,765.9 L529.2,772.7 L530.7,772.2 L532.8,757.9 L533.8,760.4 L535.3,783.5 L536.8,794.8 L538.4,795.1 L539.9,795.0 L541.4,795.0 L543.0,794.9 L544.5,794.9 L546.0,794.8 L547.6,794.6 L549.1,794.4 L550.6,794.1 L552.2,793.6 L553.7,792.6 L555.2,790.9 L557.0,789.4 L558.3,791.5 L559.8,795.0 L561.4,795.0 L562.9,795.0 L564.4,795.0 L565.9,795.0 L567.5,794.9 L569.0,794.9 L570.5,794.9 L572.1,794.9 L573.6,794.8 L575.1,794.8 L576.7,794.7 L578.2,794.5 L579.7,794.3 L581.3,793.9 L582.8,793.5 L584.3,793.9 L585.9,794.7 L587.4,794.8 L588.9,794.7 L590.5,794.7 L592.0,794.7 L593.5,794.6 L595.1,794.6 L596.6,794.5 L598.1,794.4 L599.7,794.2 L601.2,794.0 L602.7,793.6 L604.3,792.8 L605.8,791.5 L608.0,789.6 L608.9,790.0 L610.4,793.8 L611.9,794.6 L613.4,794.6 L615.0,794.5 L616.5,794.5 L618.0,794.5 L619.6,794.4 L621.1,794.4 L622.6,794.3 L624.2,794.2 L625.7,794.2 L627.2,794.1 L628.8,794.0 L630.3,793.9 L631.8,793.8 L633.4,793.6 L634.9,793.4 L636.4,793.2 L638.0,792.9 L639.5,792.6 L641.0,792.2 L642.6,791.7 L644.1,791.2 L645.6,790.7 L647.2,790.3 L648.7,789.8 L650.2,789.4 L651.8,789.1 L653.3,788.4 L654.8,786.1 L656.3,782.1 L657.9,779.5 L659.4,783.0 L660.9,792.7 L662.5,794.2 L664.0,794.1 L665.5,794.1 L667.1,794.0 L668.6,793.8 L670.1,793.7 L671.7,793.5 L673.2,793.2 L674.7,792.8 L676.3,792.3 L677.8,791.5 L679.3,790.8 L680.9,790.6 L682.4,791.2 L683.9,792.0 L685.5,791.8 L687.0,791.1 L688.5,790.1 L690.1,788.7 L691.6,786.6 L693.1,783.2 L694.7,777.2 L696.2,765.6 L697.7,741.5 L699.3,699.8 L700.2,685.0 L702.3,737.2 L703.8,790.1 L705.4,793.8 L706.9,793.6 L708.4,793.3 L710.0,793.0 L711.5,792.5 L713.0,791.9 L714.6,791.0 L716.1,789.6 L717.6,787.4 L719.2,783.9 L720.7,777.8 L722.2,768.7 L723.8,761.1 L724.6,760.8 L726.8,763.0 L728.4,773.4 L729.9,786.8 L731.4,793.3 L733.0,794.2 L734.5,794.0 L736.0,793.8 L737.6,793.5 L739.1,793.3 L740.6,793.3 L742.2,793.3 L743.7,793.5 L745.2,793.8 L746.7,794.1 L748.3,794.2 L749.8,794.0 L751.3,793.5 L752.9,792.6 L754.4,791.0 L756.0,789.8 L757.5,791.6 L759.0,794.7 L760.5,794.9 L762.1,794.8 L763.6,794.8 L765.1,794.8 L766.7,794.7 L768.2,794.7 L769.7,794.6 L771.3,794.6 L772.8,794.5 L774.3,794.3 L775.9,794.1 L777.4,793.9 L778.9,793.5 L780.5,792.9 L782.0,791.8 L783.5,790.0 L785.1,787.1 L786.6,784.4 L788.1,784.2 L789.7,784.1 L791.2,784.0 L793.0,784.0 L794.2,783.9 L795.8,783.8 L797.3,783.6 L798.8,783.5 L800.4,784.0 L801.9,788.5 L803.4,792.3 L805.0,792.4 L806.5,791.4 L808.0,789.8 L809.6,786.9 L811.1,781.3 L812.6,769.1 L814.2,747.9 L815.0,741.7 L817.2,762.7 L818.8,789.9 L820.3,794.3 L821.8,794.1 L823.4,793.8 L824.9,793.4 L826.4,792.7 L828.0,791.6 L829.5,790.0 L831.0,787.6 L832.6,785.0 L834.0,783.7 L835.6,784.8 L837.1,789.4 L838.7,794.1 L840.2,795.4 L841.7,795.4 L843.3,795.4 L844.8,795.4 L846.3,795.4 L847.9,795.4 L849.4,795.4 L850.9,795.4 L852.5,795.4 L854.0,795.4 L855.5,795.4 L857.1,795.4 L858.6,795.3 L860.1,795.3 L861.7,795.3 L863.2,795.2 L864.7,795.2 L866.3,795.1 L867.8,795.0 L869.3,794.8 L870.9,794.6 L872.4,794.2 L873.9,793.8 L875.5,793.0 L877.0,792.0 L878.5,791.0 L880.0,790.5 L881.6,791.1 L883.1,793.7 L884.6,795.3 L886.2,795.4 L887.7,795.4 L889.2,795.3 L890.8,795.1 L892.3,794.7 L893.8,794.1 L895.4,793.0 L896.9,792.2 L898.4,793.3 L900.0,795.6 L901.5,795.7 L903.0,795.7 L904.6,795.7 L906.1,795.7 L907.6,795.7 L909.2,795.7 L910.7,795.7 L912.2,795.7 L913.8,795.7 L915.3,795.8 L916.8,795.8 L918.4,795.8 L919.9,795.8 L921.4,795.8 L923.0,795.8 L924.5,795.8 L926.0,795.8 L927.5,795.8 L929.1,795.8 L930.6,795.8 L932.1,795.8 L933.7,795.8 L935.2,795.8 L936.7,795.8 L938.3,795.8 L939.8,795.8 L941.3,795.8 L942.9,795.8 L944.4,795.8 L945.9,795.8 L947.5,795.8 L949.0,795.7 L950.5,795.7 L952.1,795.7 L953.6,795.7 L955.1,795.7 L956.7,795.7 L958.2,795.7 L959.7,795.6 L961.3,795.6 L962.8,795.6 L964.3,795.5 L965.9,795.4 L967.4,795.3 L968.9,795.2 L970.5,794.9 L972.0,794.5 L973.5,793.8 L975.0,792.8 L976.6,791.8 L978.1,792.1 L979.6,794.7 L981.2,795.5 L982.7,795.4 L984.2,795.3 L985.8,795.2 L987.3,795.0 L988.8,794.7 L990.4,794.3 L991.9,793.7 L993.4,792.7 L995.0,790.9 L996.5,788.1 L998.0,785.1 L998.8,784.6 L1001.1,791.5 L1002.6,795.8 L1004.2,795.9 L1005.7,795.9 L1007.2,795.9 L1008.8,795.9 L1010.3,795.9 L1011.8,795.9 L1013.4,795.9 L1014.9,795.9 L1016.4,795.9 L1017.9,795.8 L1019.5,795.8 L1021.0,795.8 L1022.5,795.8 L1024.1,795.8 L1025.6,795.7 L1027.1,795.7 L1028.7,795.6 L1030.2,795.5 L1031.7,795.3 L1033.3,795.1 L1034.8,794.7 L1036.3,794.0 L1037.9,792.9 L1039.4,791.8 L1040.9,791.9 L1042.5,794.6 L1044.0,795.9 L1045.5,795.9 L1047.1,795.9 L1048.6,795.9 L1050.1,795.9 L1051.7,795.9 L1053.2,795.9 L1054.7,795.9 L1056.3,795.9 L1057.8,795.9 L1059.3,795.9 L1060.9,795.9 L1062.4,795.9 L1063.9,795.9 L1065.4,795.9 L1067.0,795.9 L1068.5,795.9 L1070.0,795.9 L1071.6,795.9 L1073.1,795.9 L1074.6,795.8 L1076.2,795.8 L1077.7,795.8 L1079.2,795.8 L1080.8,795.8 L1082.3,795.7 L1083.8,795.7 L1085.4,795.6 L1086.9,795.6 L1088.4,795.5 L1090.0,795.4 L1091.5,795.2 L1093.0,795.0 L1094.6,794.7 L1096.1,794.3 L1097.6,793.9 L1099.2,793.6 L1100.7,793.5 L1102.2,793.9 L1103.8,794.9 L1105.3,795.7 L1106.8,795.9 L1108.3,795.9 L1109.9,795.9 L1111.4,795.9 L1112.9,795.9 L1114.5,795.9 L1116.0,795.9 L1117.5,795.9 L1119.1,795.8 L1120.6,795.8 L1122.1,795.8 L1123.7,795.8 L1125.2,795.7 L1126.7,795.7 L1128.3,795.6 L1129.8,795.5 L1131.3,795.4 L1132.9,795.2 L1134.4,794.9 L1135.9,794.4 L1137.5,793.5 L1139.0,792.0 L1140.5,789.6 L1141.9,788.3 L1143.6,789.1 L1145.1,792.7 L1146.7,795.4 L1148.2,795.9 L1149.7,795.9 L1151.3,795.9 L1152.8,795.9 L1154.3,795.9 L1155.8,795.9 L1157.4,795.9 L1158.9,795.9 L1160.4,795.9 L1162.0,795.9 L1163.5,795.9 L1165.0,795.9 L1166.6,795.9 L1168.1,795.9 L1169.6,795.9 L1171.2,795.9 L1172.7,795.8 L1174.2,795.8 L1175.8,795.8 L1177.3,795.8 L1178.8,795.8 L1180.4,795.8 L1181.9,795.7 L1183.4,795.7 L1185.0,795.7 L1186.5,795.6 L1188.0,795.6 L1189.6,795.6 L1191.1,795.5 L1192.6,795.4 L1194.2,795.3 L1195.7,795.2 L1197.2,795.0 L1198.7,794.8 L1200.3,794.5 L1201.8,794.1 L1203.3,793.5 L1204.9,792.5 L1206.4,790.9 L1207.9,787.9 L1209.5,782.3 L1211.0,771.5 L1212.8,759.8 L1214.1,761.6 L1215.6,775.3 L1217.1,791.4 L1218.7,795.8 L1220.2,796.0 L1221.7,796.0 L1223.3,796.0 L1224.8,796.0 L1226.3,796.0 L1227.9,796.0 L1229.4,796.0 L1230.9,796.0 L1232.5,796.0 L1234.0,796.0 L1235.5,796.0 L1237.1,796.0 L1238.6,796.0 L1240.1,796.0 L1241.7,796.0 L1243.2,796.0 L1244.7,796.0 L1246.2,796.0 L1247.8,796.0 L1249.3,796.0 L1250.8,796.0 L1252.4,796.0 L1253.9,796.0 L1255.4,796.0 L1257.0,796.0 L1258.5,796.0 L1260.0,796.0 L1261.6,796.0 L1263.1,796.0 L1264.6,796.0 L1266.2,796.0 L1267.7,796.0 L1269.2,796.0 L1270.8,796.0 L1272.3,796.0 L1273.8,796.0 L1275.4,796.0 L1276.9,796.0 L1278.4,796.0 L1280.0,796.0 L1281.5,796.0 L1283.0,796.0 L1284.6,796.0 L1286.1,796.0 L1287.6,796.0 L1289.1,796.0 L1290.7,796.0 L1292.2,796.0 L1293.7,796.0 L1295.3,795.9 L1296.8,795.9 L1298.3,795.9 L1299.9,795.9 L1301.4,795.9 L1302.9,795.9 L1304.5,795.8 L1306.0,795.8 L1307.5,795.7 L1309.1,795.5 L1310.6,795.2 L1312.1,794.8 L1313.7,794.5 L1315.2,794.7 L1316.7,795.7 L1318.3,796.0 L1319.8,796.0 L1321.3,796.0 L1322.9,796.0 L1324.4,796.0 L1325.9,795.9 L1327.5,795.9 L1329.0,795.9 L1330.5,795.9 L1332.1,795.9 L1333.6,795.8 L1335.1,795.8 L1336.6,795.7 L1338.2,795.5 L1339.7,795.2 L1341.2,794.9 L1342.8,794.8 L1344.3,795.5 L1345.8,796.0 L1347.4,796.0 L1348.9,796.0 L1350.4,796.0 L1352.0,796.0 L1353.5,796.0 L1355.0,796.0 L1356.6,796.0 L1358.1,796.0 L1359.6,796.0 L1361.2,796.0 L1362.7,796.0 L1364.2,796.0 L1365.8,796.0 L1367.3,796.0 L1368.8,796.0 L1370.4,796.0 L1371.9,795.9 L1373.4,795.9 L1375.0,795.9 L1376.5,795.9 L1378.0,795.8 L1379.5,795.8 L1381.1,795.7 L1382.6,795.5 L1384.1,795.2 L1385.7,795.0 L1387.2,795.1 L1388.7,795.8 L1390.3,796.0 L1391.8,796.0 L1393.3,796.0 L1394.9,796.0 L1396.4,796.0 L1397.9,796.0 L1399.5,796.0 L1401.0,796.0 L1402.5,796.0 L1404.1,796.0 L1405.6,796.0 L1407.1,796.0 L1408.7,796.0 L1410.2,796.0 L1411.7,796.0 L1413.3,796.0 L1414.8,796.0 L1416.3,796.0 L1417.9,796.0 L1419.4,796.0 L1420.9,796.0 L1422.4,796.0 L1424.0,796.0 L1425.5,796.0 L1427.0,796.0 L1428.6,796.0 L1430.1,796.0 L1431.6,796.0 L1433.2,796.0 L1434.7,796.0 L1436.2,796.0 L1437.8,796.0 L1439.3,796.0 L1440.8,796.0 L1442.4,796.0 L1443.9,796.0 L1445.4,796.0 L1447.0,796.0 L1448.5,796.0 L1450.0,796.0 L1451.6,796.0 L1453.1,796.0 L1454.6,796.0 L1456.2,796.0 L1457.7,796.0 L1459.2,796.0 L1460.8,796.0 L1462.3,796.0 L1463.8,796.0 L1465.4,796.0 L1466.9,796.0 L1468.4,796.0 L1469.9,796.0 L1471.5,796.0 L1473.0,795.9 L1474.5,795.9 L1476.1,795.9 L1477.6,795.9 L1479.1,795.9 L1480.7,795.8 L1482.2,795.8 L1483.7,795.7 L1485.3,795.5 L1486.8,795.3 L1488.3,795.0 L1489.9,795.0 L1491.4,795.6 L1492.9,795.9 L1494.5,795.9 L1496.0,795.9 L1497.5,795.9 L1499.1,795.8 L1500.6,795.8 L1502.1,795.6 L1503.7,795.5 L1505.2,795.2 L1506.7,795.2 L1508.3,795.7 L1509.8,796.0 L1511.3,796.0 L1512.8,796.0 L1514.4,796.0 L1515.9,796.0 L1517.4,796.0 L1519.0,796.0 L1520.5,796.0 L1522.0,796.0 L1523.6,796.0 L1525.1,796.0 L1526.6,796.0 L1528.2,796.0 L1529.7,796.0 L1531.2,796.0 L1532.8,796.0 L1534.3,795.9 L1535.8,795.9 L1537.4,795.9 L1538.9,795.9 L1540.4,795.9 L1542.0,795.8 L1543.5,795.7 L1545.0,795.6 L1546.6,795.3 L1548.1,795.1 L1549.6,795.0 L1551.2,795.5 L1552.7,796.0 L1554.2,796.0 L1555.8,796.0 L1557.3,796.0 L1558.8,796.0 L1560.3,796.0 L1561.9,796.0 L1563.4,796.0 L1564.9,796.0 L1565.0,796.0" stroke="#0000ff" stroke-width="5.4" filter="url(#soft)"/>
<path d="M182.9,895.0 L184.4,895.0 L186.0,895.0 L187.5,895.0 L189.0,895.0 L190.6,895.0 L192.1,895.0 L193.6,895.0 L195.2,895.0 L196.7,895.0 L198.2,895.0 L199.8,895.0 L201.3,895.0 L202.8,895.0 L204.4,895.0 L205.9,895.0 L207.4,895.0 L208.9,895.0 L210.5,895.0 L212.0,895.0 L213.5,895.0 L215.1,895.0 L216.6,895.0 L218.1,895.0 L219.7,895.0 L221.2,895.0 L222.7,895.0 L224.3,895.0 L225.8,895.0 L227.3,895.0 L228.9,895.0 L230.4,895.0 L231.9,895.0 L233.5,895.0 L235.0,895.0 L236.5,895.0 L238.1,895.0 L239.6,895.0 L241.1,895.0 L242.7,895.0 L244.2,895.0 L245.7,895.0 L247.3,895.0 L248.8,895.0 L250.3,895.0 L251.8,895.0 L253.4,895.0 L254.9,895.0 L256.4,895.0 L258.0,895.0 L259.5,895.0 L261.0,895.0 L262.6,895.0 L264.1,895.0 L265.6,895.0 L267.2,895.0 L268.7,895.0 L270.2,895.0 L271.8,895.0 L273.3,895.0 L274.8,895.0 L276.4,895.0 L277.9,895.0 L279.4,895.0 L281.0,895.0 L282.5,895.0 L284.0,895.0 L285.6,895.0 L287.1,895.0 L288.6,895.0 L290.2,895.0 L291.7,895.0 L293.2,895.0 L294.8,895.0 L296.3,895.0 L297.8,895.0 L299.3,894.9 L300.9,894.9 L302.4,894.9 L303.9,894.9 L305.5,894.9 L307.0,894.9 L308.5,894.9 L310.1,894.9 L311.6,894.9 L313.1,894.9 L314.7,894.9 L316.2,894.9 L317.7,894.9 L319.3,894.9 L320.8,894.9 L322.3,894.9 L323.9,894.9 L325.4,894.9 L326.9,894.9 L328.5,894.9 L330.0,894.9 L331.5,894.9 L333.1,894.9 L334.6,894.9 L336.1,894.9 L337.7,894.9 L339.2,894.8 L340.7,894.8 L342.2,894.8 L343.8,894.8 L345.3,894.8 L346.8,894.8 L348.4,894.8 L349.9,894.8 L351.4,894.8 L353.0,894.7 L354.5,894.7 L356.0,894.7 L357.6,894.7 L359.1,894.7 L360.6,894.6 L362.2,894.6 L363.7,894.6 L365.2,894.5 L366.8,894.5 L368.3,894.5 L369.8,894.4 L371.4,894.3 L372.9,894.2 L374.4,894.1 L376.0,894.0 L377.5,893.9 L379.0,893.7 L380.6,893.5 L382.1,893.2 L383.6,892.8 L385.2,892.3 L386.7,891.6 L388.2,890.7 L389.7,889.6 L391.3,888.3 L392.8,886.7 L394.3,884.6 L395.9,880.4 L397.4,872.0 L398.3,868.8 L400.5,868.9 L402.0,872.8 L403.5,869.7 L405.8,852.8 L406.6,856.0 L408.1,888.7 L409.7,894.7 L411.2,894.6 L412.7,894.5 L414.3,894.3 L415.8,893.9 L417.3,893.2 L418.9,892.4 L420.4,892.5 L421.9,894.4 L423.5,894.8 L425.0,894.8 L426.5,894.8 L428.1,894.8 L429.6,894.7 L431.1,894.7 L432.6,894.6 L434.2,894.6 L435.7,894.5 L437.2,894.4 L438.8,894.3 L440.3,894.2 L441.8,893.9 L443.4,893.7 L444.9,893.2 L446.4,892.6 L448.0,891.7 L449.5,890.5 L451.0,889.1 L452.7,888.3 L454.1,890.8 L455.6,894.9 L457.2,895.0 L458.7,895.0 L460.2,895.0 L461.8,895.0 L463.3,895.0 L464.8,895.0 L466.4,895.0 L467.9,895.0 L469.4,895.0 L471.0,895.0 L472.5,895.0 L474.0,895.0 L475.6,895.0 L477.1,894.9 L478.6,894.9 L480.1,894.9 L481.7,894.9 L483.2,894.9 L484.7,894.9 L486.3,894.9 L487.8,894.9 L489.3,894.9 L490.9,894.9 L492.4,894.9 L493.9,894.9 L495.5,894.9 L497.0,894.9 L498.5,894.9 L500.1,894.9 L501.6,894.9 L503.1,894.9 L504.7,894.9 L506.2,894.9 L507.7,894.9 L509.3,894.9 L510.8,894.9 L512.3,894.9 L513.9,894.9 L515.4,894.8 L516.9,894.8 L518.5,894.8 L520.0,894.8 L521.5,894.8 L523.0,894.8 L524.6,894.8 L526.1,894.8 L527.6,894.7 L529.2,894.7 L530.7,894.7 L532.2,894.7 L533.8,894.7 L535.3,894.6 L536.8,894.6 L538.4,894.5 L539.9,894.5 L541.4,894.4 L543.0,894.4 L544.5,894.3 L546.0,894.2 L547.6,894.1 L549.1,893.9 L550.6,893.8 L552.2,893.5 L553.7,893.2 L555.2,892.8 L556.8,892.3 L558.3,891.5 L559.8,890.4 L561.4,888.6 L562.9,885.6 L564.4,880.3 L565.9,869.8 L567.5,850.1 L569.0,830.8 L570.2,830.5 L572.1,836.5 L573.6,886.6 L575.1,895.0 L576.7,895.0 L578.2,895.0 L579.7,895.0 L581.3,895.0 L582.8,895.0 L584.3,895.0 L585.9,895.0 L587.4,895.0 L588.9,895.0 L590.5,895.0 L592.0,895.0 L593.5,895.0 L595.1,895.0 L596.6,895.0 L598.1,895.0 L599.7,895.0 L601.2,895.0 L602.7,895.0 L604.3,895.0 L605.8,895.0 L607.3,895.0 L608.9,895.0 L610.4,895.0 L611.9,895.0 L613.4,895.0 L615.0,895.0 L616.5,895.0 L618.0,895.0 L619.6,895.0 L621.1,895.0 L622.6,895.0 L624.2,895.0 L625.7,895.0 L627.2,895.0 L628.8,895.0 L630.3,895.0 L631.8,895.0 L633.4,895.0 L634.9,895.0 L636.4,895.0 L638.0,895.0 L639.5,895.0 L641.0,895.0 L642.6,895.0 L644.1,895.0 L645.6,895.0 L647.2,895.0 L648.7,895.0 L650.2,895.0 L651.8,895.0 L653.3,895.0 L654.8,895.0 L656.3,895.0 L657.9,895.0 L659.4,894.9 L660.9,894.9 L662.5,894.9 L664.0,894.9 L665.5,894.9 L667.1,894.9 L668.6,894.9 L670.1,894.9 L671.7,894.9 L673.2,894.9 L674.7,894.8 L676.3,894.8 L677.8,894.8 L679.3,894.7 L680.9,894.7 L682.4,894.6 L683.9,894.5 L685.5,894.4 L687.0,894.1 L688.5,893.7 L690.1,892.9 L691.6,891.9 L693.1,891.6 L694.7,893.3 L696.2,894.5 L697.7,894.5 L699.3,894.4 L700.8,894.2 L702.3,894.1 L703.8,893.8 L705.4,893.5 L706.9,893.1 L708.4,892.5 L710.0,891.7 L711.5,890.8 L713.0,890.4 L714.6,890.5 L716.1,891.8 L717.6,892.8 L719.2,892.6 L720.7,891.8 L722.2,890.6 L723.8,889.3 L725.9,888.3 L726.8,888.5 L728.4,891.8 L729.9,894.2 L731.4,894.2 L733.0,893.9 L734.5,893.4 L736.0,892.5 L737.6,891.0 L739.1,888.4 L740.8,886.3 L742.2,888.9 L743.7,894.6 L745.2,894.8 L746.7,894.8 L748.3,894.8 L749.8,894.7 L751.3,894.7 L752.9,894.6 L754.4,894.5 L755.9,894.4 L757.5,894.3 L759.0,894.2 L760.5,894.1 L762.1,893.9 L763.6,893.6 L765.1,893.3 L766.7,892.8 L768.2,892.2 L769.7,891.2 L771.3,889.7 L772.8,887.3 L774.3,883.1 L775.9,874.8 L777.4,858.8 L778.9,839.1 L780.4,837.2 L782.0,838.9 L783.5,880.6 L785.1,894.8 L786.6,894.8 L788.1,894.8 L789.7,894.7 L791.2,894.6 L792.7,894.4 L794.2,894.2 L795.8,893.9 L797.3,893.5 L798.8,892.8 L800.4,891.7 L801.9,889.7 L803.4,886.4 L805.0,882.1 L806.0,880.8 L808.0,888.3 L809.6,894.9 L811.1,895.2 L812.6,895.2 L814.2,895.2 L815.7,895.2 L817.2,895.1 L818.8,895.1 L820.3,895.1 L821.8,895.1 L823.4,895.1 L824.9,895.0 L826.4,895.0 L828.0,894.9 L829.5,894.8 L831.0,894.6 L832.6,894.3 L834.1,893.9 L835.6,893.2 L837.1,892.0 L838.7,891.1 L840.2,891.6 L841.7,894.4 L843.3,895.1 L844.8,895.1 L846.3,895.1 L847.9,895.0 L849.4,895.0 L850.9,894.9 L852.5,894.9 L854.0,894.8 L855.5,894.6 L857.1,894.3 L858.6,893.9 L860.1,893.2 L861.7,891.8 L863.2,889.9 L864.0,889.5 L866.3,893.7 L867.8,894.8 L869.3,894.7 L870.9,894.6 L872.4,894.4 L873.9,894.0 L875.5,893.4 L877.0,892.3 L878.5,891.1 L880.1,891.4 L881.6,893.9 L883.1,894.0 L884.6,893.7 L886.2,893.1 L887.7,892.3 L889.2,891.0 L890.8,888.8 L892.3,885.2 L893.8,880.1 L895.3,877.4 L896.9,882.3 L898.4,893.7 L900.0,895.3 L901.5,895.3 L903.0,895.2 L904.6,895.2 L906.1,895.2 L907.6,895.2 L909.2,895.2 L910.7,895.1 L912.2,895.1 L913.8,895.0 L915.3,895.0 L916.8,894.9 L918.4,894.8 L919.9,894.6 L921.4,894.4 L923.0,894.1 L924.5,893.7 L926.0,893.0 L927.5,891.8 L929.1,889.8 L930.6,886.8 L932.7,883.6 L933.7,884.4 L935.2,892.0 L936.7,895.3 L938.3,895.3 L939.8,895.3 L941.3,895.3 L942.9,895.3 L944.4,895.3 L945.9,895.3 L947.5,895.3 L949.0,895.3 L950.5,895.3 L952.1,895.2 L953.6,895.2 L955.1,895.2 L956.7,895.2 L958.2,895.1 L959.7,895.1 L961.3,895.1 L962.8,895.0 L964.3,895.0 L965.9,894.9 L967.4,894.8 L968.9,894.7 L970.5,894.5 L972.0,894.3 L973.5,894.1 L975.0,893.7 L976.6,893.2 L978.1,892.5 L979.6,891.3 L981.2,889.5 L982.7,886.4 L984.2,881.4 L985.8,874.8 L987.0,872.1 L988.8,881.1 L990.4,894.3 L991.9,895.4 L993.4,895.4 L995.0,895.3 L996.5,895.3 L998.0,895.3 L999.6,895.3 L1001.1,895.2 L1002.6,895.2 L1004.2,895.2 L1005.7,895.1 L1007.2,895.0 L1008.8,895.0 L1010.3,894.8 L1011.8,894.7 L1013.4,894.5 L1014.9,894.3 L1016.4,893.9 L1017.9,893.4 L1019.5,892.7 L1021.0,891.6 L1022.5,889.7 L1024.1,886.5 L1025.6,881.5 L1027.7,876.2 L1028.7,877.5 L1030.2,890.0 L1031.7,895.4 L1033.3,895.5 L1034.8,895.5 L1036.3,895.5 L1037.9,895.5 L1039.4,895.5 L1040.9,895.5 L1042.5,895.5 L1044.0,895.5 L1045.5,895.5 L1047.1,895.5 L1048.6,895.5 L1050.1,895.4 L1051.7,895.4 L1053.2,895.4 L1054.7,895.4 L1056.3,895.4 L1057.8,895.3 L1059.3,895.3 L1060.9,895.2 L1062.4,895.2 L1063.9,895.1 L1065.4,895.0 L1067.0,894.9 L1068.5,894.7 L1070.0,894.5 L1071.6,894.1 L1073.1,893.6 L1074.6,892.9 L1076.2,891.6 L1077.7,889.5 L1079.2,886.1 L1080.8,882.2 L1081.7,881.2 L1083.8,888.8 L1085.4,895.1 L1086.9,895.3 L1088.4,895.2 L1090.0,895.0 L1091.5,894.6 L1093.0,894.0 L1094.6,892.9 L1096.1,891.6 L1097.6,891.9 L1099.2,894.9 L1100.7,895.5 L1102.2,895.5 L1103.8,895.4 L1105.3,895.4 L1106.8,895.3 L1108.3,895.2 L1109.9,895.0 L1111.4,894.6 L1112.9,894.0 L1114.5,892.9 L1116.0,891.6 L1117.5,891.6 L1119.1,894.8 L1120.6,895.5 L1122.1,895.4 L1123.7,895.4 L1125.2,895.3 L1126.7,895.3 L1128.3,895.1 L1129.8,894.9 L1131.3,894.6 L1132.9,894.0 L1134.4,893.0 L1135.9,891.6 L1137.5,891.5 L1139.0,894.5 L1140.5,895.4 L1142.1,895.3 L1143.6,895.3 L1145.1,895.2 L1146.7,895.1 L1148.2,895.0 L1149.7,894.9 L1151.3,894.7 L1152.8,894.5 L1154.3,894.2 L1155.8,893.7 L1157.4,893.1 L1158.9,892.2 L1160.4,890.7 L1162.0,888.2 L1163.5,884.1 L1165.0,878.1 L1166.7,873.8 L1168.1,878.1 L1169.6,892.5 L1171.2,895.3 L1172.7,895.2 L1174.2,895.1 L1175.8,894.8 L1177.3,894.5 L1178.8,894.0 L1180.4,893.1 L1181.9,891.6 L1183.4,889.3 L1185.4,887.1 L1186.5,888.0 L1188.0,893.7 L1189.6,895.8 L1191.1,895.8 L1192.6,895.8 L1194.2,895.8 L1195.7,895.8 L1197.2,895.8 L1198.7,895.8 L1200.3,895.8 L1201.8,895.7 L1203.3,895.7 L1204.9,895.7 L1206.4,895.7 L1207.9,895.7 L1209.5,895.7 L1211.0,895.7 L1212.5,895.6 L1214.1,895.6 L1215.6,895.6 L1217.1,895.5 L1218.7,895.4 L1220.2,895.4 L1221.7,895.3 L1223.3,895.1 L1224.8,894.9 L1226.3,894.7 L1227.9,894.3 L1229.4,893.7 L1230.9,892.7 L1232.5,890.9 L1234.0,887.8 L1235.5,882.1 L1237.5,875.5 L1238.6,878.6 L1240.1,894.0 L1241.7,895.9 L1243.2,895.9 L1244.7,895.9 L1246.2,895.9 L1247.8,895.9 L1249.3,895.9 L1250.8,895.9 L1252.4,895.9 L1253.9,895.9 L1255.4,895.9 L1257.0,895.9 L1258.5,895.9 L1260.0,896.0 L1261.6,896.0 L1263.1,896.0 L1264.6,896.0 L1266.2,896.0 L1267.7,896.0 L1269.2,896.0 L1270.8,896.0 L1272.3,896.0 L1273.8,896.0 L1275.4,896.0 L1276.9,896.0 L1278.4,896.0 L1280.0,896.0 L1281.5,896.0 L1283.0,896.0 L1284.6,896.0 L1286.1,896.0 L1287.6,895.9 L1289.1,895.9 L1290.7,895.9 L1292.2,895.9 L1293.7,895.9 L1295.3,895.9 L1296.8,895.9 L1298.3,895.9 L1299.9,895.9 L1301.4,895.9 L1302.9,895.8 L1304.5,895.8 L1306.0,895.7 L1307.5,895.6 L1309.1,895.5 L1310.6,895.3 L1312.1,895.1 L1313.7,894.6 L1315.2,893.8 L1316.7,892.6 L1318.3,891.7 L1319.8,892.4 L1321.3,895.3 L1322.9,896.0 L1324.4,896.0 L1325.9,896.0 L1327.5,896.0 L1329.0,896.1 L1330.5,896.1 L1332.1,896.1 L1333.6,896.1 L1335.1,896.1 L1336.6,896.1 L1338.2,896.1 L1339.7,896.1 L1341.2,896.1 L1342.8,896.1 L1344.3,896.1 L1345.8,896.1 L1347.4,896.1 L1348.9,896.1 L1350.4,896.1 L1352.0,896.1 L1353.5,896.1 L1355.0,896.1 L1356.6,896.1 L1358.1,896.1 L1359.6,896.1 L1361.2,896.0 L1362.7,896.0 L1364.2,896.0 L1365.8,896.0 L1367.3,896.0 L1368.8,896.0 L1370.4,896.0 L1371.9,896.0 L1373.4,896.0 L1375.0,896.0 L1376.5,896.0 L1378.0,896.0 L1379.5,896.0 L1381.1,895.9 L1382.6,895.9 L1384.1,895.9 L1385.7,895.8 L1387.2,895.8 L1388.7,895.7 L1390.3,895.6 L1391.8,895.5 L1393.3,895.3 L1394.9,895.0 L1396.4,894.5 L1397.9,893.6 L1399.5,892.3 L1401.0,891.1 L1402.5,891.6 L1404.1,894.9 L1405.6,896.0 L1407.1,896.0 L1408.7,896.0 L1410.2,895.9 L1411.7,895.9 L1413.3,895.9 L1414.8,895.9 L1416.3,895.8 L1417.9,895.8 L1419.4,895.7 L1420.9,895.6 L1422.4,895.5 L1424.0,895.3 L1425.5,895.1 L1427.0,894.8 L1428.6,894.3 L1430.1,893.6 L1431.6,892.6 L1433.2,891.8 L1434.7,891.8 L1436.2,893.1 L1437.8,895.4 L1439.3,896.1 L1440.8,896.1 L1442.4,896.1 L1443.9,896.1 L1445.4,896.1 L1447.0,896.1 L1448.5,896.1 L1450.0,896.1 L1451.6,896.1 L1453.1,896.1 L1454.6,896.1 L1456.2,896.1 L1457.7,896.1 L1459.2,896.1 L1460.8,896.1 L1462.3,896.1 L1463.8,896.1 L1465.4,896.1 L1466.9,896.1 L1468.4,896.1 L1469.9,896.1 L1471.5,896.1 L1473.0,896.1 L1474.5,896.1 L1476.1,896.1 L1477.6,896.1 L1479.1,896.1 L1480.7,896.1 L1482.2,896.1 L1483.7,896.1 L1485.3,896.1 L1486.8,896.1 L1488.3,896.1 L1489.9,896.1 L1491.4,896.1 L1492.9,896.1 L1494.5,896.1 L1496.0,896.1 L1497.5,896.1 L1499.1,896.1 L1500.6,896.1 L1502.1,896.1 L1503.7,896.1 L1505.2,896.1 L1506.7,896.1 L1508.3,896.1 L1509.8,896.1 L1511.3,896.1 L1512.8,896.1 L1514.4,896.1 L1515.9,896.1 L1517.4,896.1 L1519.0,896.1 L1520.5,896.1 L1522.0,896.1 L1523.6,896.1 L1525.1,896.1 L1526.6,896.1 L1528.2,896.0 L1529.7,896.0 L1531.2,896.0 L1532.8,896.0 L1534.3,896.0 L1535.8,896.0 L1537.4,896.0 L1538.9,896.0 L1540.4,895.9 L1542.0,895.9 L1543.5,895.8 L1545.0,895.8 L1546.6,895.7 L1548.1,895.5 L1549.6,895.2 L1551.2,894.8 L1552.7,894.1 L1554.2,893.1 L1555.8,892.5 L1557.3,893.5 L1558.8,895.8 L1560.3,896.1 L1561.9,896.1 L1563.4,896.1 L1564.9,896.1 L1565.0,896.1" stroke="#ff0000" stroke-width="5.6" filter="url(#soft)"/>
<path d="M182.9,976.2 L184.4,976.2 L186.0,976.2 L187.5,976.2 L189.0,976.2 L190.6,976.2 L192.1,976.2 L193.6,976.2 L195.2,976.2 L196.7,976.2 L198.2,976.2 L199.8,976.2 L201.3,976.2 L202.8,976.2 L204.4,976.2 L205.9,976.2 L207.4,976.1 L208.9,976.1 L210.5,976.1 L212.0,976.1 L213.5,976.1 L215.1,976.1 L216.6,976.1 L218.1,976.0 L219.7,976.0 L221.2,975.9 L222.7,975.8 L224.3,975.6 L225.8,975.2 L227.3,974.7 L228.9,974.0 L230.4,973.8 L231.9,974.8 L233.5,976.1 L235.0,976.2 L236.5,976.2 L238.1,976.2 L239.6,976.2 L241.1,976.2 L242.7,976.2 L244.2,976.2 L245.7,976.2 L247.3,976.2 L248.8,976.2 L250.3,976.2 L251.8,976.2 L253.4,976.2 L254.9,976.2 L256.4,976.2 L258.0,976.2 L259.5,976.2 L261.0,976.2 L262.6,976.2 L264.1,976.2 L265.6,976.2 L267.2,976.2 L268.7,976.2 L270.2,976.2 L271.8,976.2 L273.3,976.2 L274.8,976.2 L276.4,976.2 L277.9,976.2 L279.4,976.2 L281.0,976.2 L282.5,976.2 L284.0,976.2 L285.6,976.2 L287.1,976.2 L288.6,976.2 L290.2,976.2 L291.7,976.2 L293.2,976.2 L294.8,976.2 L296.3,976.2 L297.8,976.2 L299.3,976.2 L300.9,976.2 L302.4,976.2 L303.9,976.2 L305.5,976.2 L307.0,976.2 L308.5,976.2 L310.1,976.2 L311.6,976.2 L313.1,976.2 L314.7,976.2 L316.2,976.2 L317.7,976.2 L319.3,976.2 L320.8,976.2 L322.3,976.2 L323.9,976.2 L325.4,976.2 L326.9,976.2 L328.5,976.2 L330.0,976.2 L331.5,976.1 L333.1,976.1 L334.6,976.1 L336.1,976.1 L337.7,976.1 L339.2,976.1 L340.7,976.1 L342.2,976.1 L343.8,976.1 L345.3,976.1 L346.8,976.1 L348.4,976.1 L349.9,976.1 L351.4,976.1 L353.0,976.1 L354.5,976.1 L356.0,976.0 L357.6,976.0 L359.1,976.0 L360.6,975.9 L362.2,975.8 L363.7,975.6 L365.2,975.4 L366.8,975.1 L368.3,974.9 L369.8,975.4 L371.4,976.0 L372.9,976.1 L374.4,976.1 L376.0,976.1 L377.5,976.1 L379.0,976.0 L380.6,976.0 L382.1,976.0 L383.6,976.0 L385.2,976.0 L386.7,976.0 L388.2,976.0 L389.7,976.0 L391.3,976.0 L392.8,975.9 L394.3,975.9 L395.9,975.9 L397.4,975.9 L398.9,975.8 L400.5,975.8 L402.0,975.7 L403.5,975.7 L405.1,975.6 L406.6,975.4 L408.1,975.2 L409.7,974.9 L411.2,974.4 L412.7,973.8 L414.3,973.5 L415.8,974.4 L417.3,975.4 L418.9,975.3 L420.4,975.2 L421.9,975.0 L423.5,974.8 L425.0,974.6 L426.5,974.2 L428.1,973.8 L429.6,973.2 L431.1,972.5 L432.6,971.5 L434.2,970.4 L435.7,969.4 L437.2,968.5 L438.8,967.9 L440.3,967.4 L441.8,965.5 L443.4,960.6 L444.9,954.1 L445.9,952.2 L448.0,967.0 L449.5,975.3 L451.0,975.2 L452.6,974.6 L454.1,973.5 L455.6,970.9 L456.8,969.4 L458.7,972.8 L460.2,975.6 L461.8,975.7 L463.3,975.6 L464.8,975.5 L466.4,975.4 L467.9,975.2 L469.4,975.0 L471.0,974.7 L472.5,974.4 L474.0,973.8 L475.6,973.1 L477.1,972.1 L478.6,970.7 L480.1,969.2 L481.9,968.4 L483.2,970.6 L484.7,975.8 L486.3,976.0 L487.8,976.0 L489.3,975.9 L490.9,975.9 L492.4,975.9 L493.9,975.8 L495.5,975.8 L497.0,975.7 L498.5,975.6 L500.1,975.4 L501.6,975.1 L503.1,974.5 L504.7,974.0 L506.2,974.2 L507.7,975.6 L509.3,975.8 L510.8,975.8 L512.3,975.7 L513.9,975.7 L515.4,975.7 L516.9,975.6 L518.5,975.6 L520.0,975.5 L521.5,975.4 L523.0,975.3 L524.6,975.2 L526.1,975.1 L527.6,974.9 L529.2,974.7 L530.7,974.4 L532.2,974.1 L533.8,973.6 L535.3,973.0 L536.8,972.1 L538.4,970.8 L539.9,968.8 L541.4,965.9 L543.0,962.4 L545.1,959.3 L546.0,960.6 L547.6,971.8 L549.1,975.3 L550.6,975.2 L552.2,975.0 L553.7,974.7 L555.2,974.2 L556.8,973.2 L558.3,971.2 L560.0,969.2 L561.4,970.2 L562.9,974.2 L564.4,975.0 L565.9,974.9 L567.5,974.7 L569.0,974.5 L570.5,974.2 L572.1,973.9 L573.6,973.5 L575.1,973.0 L576.7,972.3 L578.2,971.3 L579.7,970.0 L581.3,968.1 L582.8,965.3 L584.3,961.1 L585.9,955.2 L587.4,948.3 L589.2,943.8 L590.5,949.0 L592.0,971.0 L593.5,975.6 L595.1,975.6 L596.6,975.5 L598.1,975.5 L599.7,975.4 L601.2,975.3 L602.7,975.2 L604.3,975.0 L605.8,974.9 L607.3,974.6 L608.9,974.3 L610.4,973.9 L611.9,973.2 L613.4,972.4 L615.0,971.1 L616.5,969.2 L618.0,966.5 L619.6,963.4 L621.3,961.6 L622.6,964.3 L624.2,974.0 L625.7,975.8 L627.2,975.7 L628.8,975.7 L630.3,975.7 L631.8,975.7 L633.4,975.6 L634.9,975.6 L636.4,975.5 L638.0,975.5 L639.5,975.5 L641.0,975.4 L642.6,975.3 L644.1,975.3 L645.6,975.2 L647.2,975.1 L648.7,975.0 L650.2,974.9 L651.8,974.7 L653.3,974.6 L654.8,974.4 L656.3,974.2 L657.9,973.9 L659.4,973.6 L660.9,973.2 L662.5,972.6 L664.0,972.0 L665.5,971.1 L667.1,970.0 L668.6,968.4 L670.1,966.2 L671.7,963.0 L673.2,958.2 L674.7,951.1 L676.3,941.7 L677.8,932.2 L679.0,929.0 L680.9,939.9 L682.4,965.8 L683.9,973.5 L685.5,973.0 L687.0,971.8 L688.5,970.0 L690.1,967.6 L691.9,965.8 L693.1,966.6 L694.7,971.9 L696.2,974.2 L697.7,973.8 L699.3,973.2 L700.8,972.2 L702.3,970.7 L703.8,968.4 L705.4,965.2 L707.5,962.1 L708.4,962.2 L710.0,966.5 L711.5,971.4 L713.0,970.9 L714.6,968.5 L716.4,966.5 L717.6,967.4 L719.2,972.6 L720.7,975.0 L722.2,975.0 L723.8,974.7 L725.3,974.4 L726.8,974.1 L728.4,973.5 L729.9,972.8 L731.4,971.7 L733.0,970.1 L734.5,967.7 L736.0,964.8 L738.1,962.1 L739.1,962.0 L740.6,965.8 L742.2,969.7 L743.7,968.4 L745.0,967.4 L746.7,969.4 L748.3,974.3 L749.8,975.1 L751.3,974.8 L752.9,974.3 L754.4,973.6 L755.9,972.5 L757.5,970.9 L759.0,969.4 L759.8,969.2 L762.1,973.9 L763.6,975.9 L765.1,976.0 L766.7,975.9 L768.2,975.9 L769.7,975.9 L771.3,975.9 L772.8,975.8 L774.3,975.8 L775.9,975.8 L777.4,975.7 L778.9,975.7 L780.5,975.7 L782.0,975.6 L783.5,975.5 L785.1,975.4 L786.6,975.3 L788.1,975.2 L789.7,975.1 L791.2,974.9 L792.7,974.7 L794.2,974.3 L795.8,973.9 L797.3,973.3 L798.8,972.5 L800.4,971.3 L801.9,969.5 L803.4,966.9 L805.0,963.4 L806.5,960.4 L807.4,959.8 L809.6,966.9 L811.1,974.9 L812.6,975.7 L814.2,975.6 L815.7,975.5 L817.2,975.3 L818.8,975.1 L820.3,974.7 L821.8,974.1 L823.4,973.7 L824.9,974.4 L826.4,974.8 L828.0,974.4 L829.5,974.0 L831.0,973.4 L832.6,972.5 L834.1,971.2 L835.6,969.2 L837.1,966.0 L838.7,961.5 L840.2,957.3 L841.0,956.5 L843.3,964.7 L844.8,973.4 L846.3,973.2 L847.9,970.5 L849.0,969.1 L850.9,975.1 L852.5,976.1 L854.0,976.1 L855.5,976.1 L857.1,976.1 L858.6,976.1 L860.1,976.1 L861.7,976.1 L863.2,976.0 L864.7,976.0 L866.3,976.0 L867.8,976.0 L869.3,976.0 L870.9,975.9 L872.4,975.9 L873.9,975.9 L875.5,975.8 L877.0,975.7 L878.5,975.6 L880.1,975.5 L881.6,975.3 L883.1,975.0 L884.6,974.5 L886.2,973.9 L887.7,973.1 L889.2,972.5 L890.8,972.4 L892.3,973.6 L893.8,975.4 L895.4,976.0 L896.9,976.0 L898.4,975.9 L900.0,975.9 L901.5,975.8 L903.0,975.8 L904.6,975.7 L906.1,975.5 L907.6,975.4 L909.2,975.1 L910.7,974.7 L912.2,974.0 L913.8,973.1 L915.3,972.0 L916.8,971.4 L918.4,972.3 L919.9,975.0 L921.4,975.8 L923.0,975.7 L924.5,975.5 L926.0,975.3 L927.5,974.9 L929.1,974.3 L930.6,973.2 L932.1,971.9 L933.7,971.4 L935.2,973.4 L936.7,975.9 L938.3,976.1 L939.8,976.0 L941.3,976.0 L942.9,976.0 L944.4,976.0 L945.9,975.9 L947.5,975.9 L949.0,975.8 L950.5,975.7 L952.1,975.5 L953.6,975.2 L955.1,974.7 L956.7,973.8 L958.2,972.2 L959.7,969.9 L960.7,969.2 L962.8,974.0 L964.3,976.1 L965.9,976.1 L967.4,976.1 L968.9,976.1 L970.5,976.1 L972.0,976.1 L973.5,976.1 L975.0,976.1 L976.6,976.1 L978.1,976.1 L979.6,976.1 L981.2,976.1 L982.7,976.0 L984.2,976.0 L985.8,976.0 L987.3,976.0 L988.8,976.0 L990.4,975.9 L991.9,975.9 L993.4,975.8 L995.0,975.8 L996.5,975.7 L998.0,975.6 L999.6,975.4 L1001.1,975.2 L1002.6,974.9 L1004.2,974.5 L1005.7,973.9 L1007.2,973.0 L1008.8,971.7 L1010.3,970.4 L1011.7,969.8 L1013.4,970.7 L1014.9,974.0 L1016.4,976.0 L1017.9,976.2 L1019.5,976.2 L1021.0,976.2 L1022.5,976.2 L1024.1,976.2 L1025.6,976.2 L1027.1,976.2 L1028.7,976.2 L1030.2,976.2 L1031.7,976.2 L1033.3,976.2 L1034.8,976.2 L1036.3,976.2 L1037.9,976.2 L1039.4,976.2 L1040.9,976.2 L1042.5,976.2 L1044.0,976.2 L1045.5,976.2 L1047.1,976.2 L1048.6,976.2 L1050.1,976.2 L1051.7,976.2 L1053.2,976.2 L1054.7,976.2 L1056.3,976.2 L1057.8,976.2 L1059.3,976.2 L1060.9,976.2 L1062.4,976.1 L1063.9,976.1 L1065.4,976.1 L1067.0,976.1 L1068.5,976.1 L1070.0,976.1 L1071.6,976.1 L1073.1,976.1 L1074.6,976.1 L1076.2,976.1 L1077.7,976.0 L1079.2,976.0 L1080.8,976.0 L1082.3,975.9 L1083.8,975.8 L1085.4,975.7 L1086.9,975.6 L1088.4,975.4 L1090.0,975.0 L1091.5,974.3 L1093.0,973.2 L1094.6,972.3 L1096.1,972.6 L1097.6,975.2 L1099.2,976.2 L1100.7,976.2 L1102.2,976.2 L1103.8,976.2 L1105.3,976.1 L1106.8,976.1 L1108.3,976.1 L1109.9,976.1 L1111.4,976.1 L1112.9,976.1 L1114.5,976.1 L1116.0,976.0 L1117.5,976.0 L1119.1,976.0 L1120.6,975.9 L1122.1,975.7 L1123.7,975.5 L1125.2,975.2 L1126.7,974.6 L1128.3,974.1 L1129.8,974.0 L1131.3,975.4 L1132.9,976.2 L1134.4,976.2 L1135.9,976.2 L1137.5,976.2 L1139.0,976.2 L1140.5,976.2 L1142.1,976.2 L1143.6,976.2 L1145.1,976.2 L1146.7,976.2 L1148.2,976.2 L1149.7,976.2 L1151.3,976.2 L1152.8,976.2 L1154.3,976.2 L1155.8,976.2 L1157.4,976.2 L1158.9,976.2 L1160.4,976.1 L1162.0,976.1 L1163.5,976.1 L1165.0,976.1 L1166.6,976.1 L1168.1,976.1 L1169.6,976.1 L1171.2,976.1 L1172.7,976.1 L1174.2,976.1 L1175.8,976.1 L1177.3,976.1 L1178.8,976.0 L1180.4,976.0 L1181.9,976.0 L1183.4,975.9 L1185.0,975.9 L1186.5,975.8 L1188.0,975.8 L1189.6,975.7 L1191.1,975.5 L1192.6,975.3 L1194.2,975.0 L1195.7,974.5 L1197.2,973.8 L1198.7,973.0 L1200.3,972.4 L1201.8,972.6 L1203.3,974.1 L1204.9,975.9 L1206.4,976.2 L1207.9,976.2 L1209.5,976.2 L1211.0,976.2 L1212.5,976.2 L1214.1,976.2 L1215.6,976.2 L1217.1,976.2 L1218.7,976.2 L1220.2,976.2 L1221.7,976.2 L1223.3,976.2 L1224.8,976.2 L1226.3,976.2 L1227.9,976.2 L1229.4,976.2 L1230.9,976.2 L1232.5,976.2 L1234.0,976.2 L1235.5,976.2 L1237.1,976.2 L1238.6,976.2 L1240.1,976.1 L1241.7,976.1 L1243.2,976.1 L1244.7,976.1 L1246.2,976.1 L1247.8,976.1 L1249.3,976.1 L1250.8,976.1 L1252.4,976.1 L1253.9,976.1 L1255.4,976.0 L1257.0,976.0 L1258.5,975.9 L1260.0,975.9 L1261.6,975.8 L1263.1,975.6 L1264.6,975.5 L1266.2,975.2 L1267.7,974.8 L1269.2,974.3 L1270.8,974.1 L1272.3,974.4 L1273.8,975.4 L1275.4,976.1 L1276.9,976.2 L1278.4,976.2 L1280.0,976.2 L1281.5,976.2 L1283.0,976.1 L1284.6,976.1 L1286.1,976.1 L1287.6,976.1 L1289.1,976.1 L1290.7,976.1 L1292.2,976.0 L1293.7,976.0 L1295.3,975.9 L1296.8,975.8 L1298.3,975.6 L1299.9,975.3 L1301.4,974.9 L1302.9,974.3 L1304.5,974.1 L1306.0,975.1 L1307.5,976.1 L1309.1,976.2 L1310.6,976.2 L1312.1,976.2 L1313.7,976.2 L1315.2,976.2 L1316.7,976.2 L1318.3,976.2 L1319.8,976.2 L1321.3,976.2 L1322.9,976.2 L1324.4,976.2 L1325.9,976.2 L1327.5,976.2 L1329.0,976.2 L1330.5,976.2 L1332.1,976.2 L1333.6,976.2 L1335.1,976.2 L1336.6,976.2 L1338.2,976.2 L1339.7,976.2 L1341.2,976.2 L1342.8,976.2 L1344.3,976.2 L1345.8,976.2 L1347.4,976.2 L1348.9,976.2 L1350.4,976.2 L1352.0,976.2 L1353.5,976.2 L1355.0,976.2 L1356.6,976.2 L1358.1,976.2 L1359.6,976.2 L1361.2,976.2 L1362.7,976.2 L1364.2,976.2 L1365.8,976.2 L1367.3,976.2 L1368.8,976.2 L1370.4,976.2 L1371.9,976.2 L1373.4,976.2 L1375.0,976.2 L1376.5,976.2 L1378.0,976.2 L1379.5,976.2 L1381.1,976.2 L1382.6,976.2 L1384.1,976.2 L1385.7,976.2 L1387.2,976.2 L1388.7,976.2 L1390.3,976.2 L1391.8,976.2 L1393.3,976.2 L1394.9,976.2 L1396.4,976.2 L1397.9,976.1 L1399.5,976.1 L1401.0,976.1 L1402.5,976.1 L1404.1,976.1 L1405.6,976.1 L1407.1,976.1 L1408.7,976.1 L1410.2,976.0 L1411.7,976.0 L1413.3,976.0 L1414.8,975.9 L1416.3,975.8 L1417.9,975.7 L1419.4,975.5 L1420.9,975.2 L1422.4,974.9 L1424.0,974.4 L1425.5,974.2 L1427.0,974.3 L1428.6,975.3 L1430.1,976.1 L1431.6,976.2 L1433.2,976.2 L1434.7,976.2 L1436.2,976.2 L1437.8,976.2 L1439.3,976.2 L1440.8,976.2 L1442.4,976.2 L1443.9,976.2 L1445.4,976.2 L1447.0,976.2 L1448.5,976.2 L1450.0,976.2 L1451.6,976.2 L1453.1,976.2 L1454.6,976.2 L1456.2,976.2 L1457.7,976.2 L1459.2,976.2 L1460.8,976.2 L1462.3,976.2 L1463.8,976.2 L1465.4,976.2 L1466.9,976.2 L1468.4,976.2 L1469.9,976.2 L1471.5,976.2 L1473.0,976.2 L1474.5,976.2 L1476.1,976.2 L1477.6,976.2 L1479.1,976.2 L1480.7,976.2 L1482.2,976.2 L1483.7,976.2 L1485.3,976.2 L1486.8,976.2 L1488.3,976.2 L1489.9,976.2 L1491.4,976.2 L1492.9,976.2 L1494.5,976.2 L1496.0,976.2 L1497.5,976.2 L1499.1,976.2 L1500.6,976.2 L1502.1,976.2 L1503.7,976.2 L1505.2,976.2 L1506.7,976.2 L1508.3,976.2 L1509.8,976.2 L1511.3,976.2 L1512.8,976.2 L1514.4,976.2 L1515.9,976.2 L1517.4,976.2 L1519.0,976.2 L1520.5,976.2 L1522.0,976.2 L1523.6,976.2 L1525.1,976.2 L1526.6,976.2 L1528.2,976.2 L1529.7,976.2 L1531.2,976.2 L1532.8,976.2 L1534.3,976.2 L1535.8,976.2 L1537.4,976.2 L1538.9,976.2 L1540.4,976.2 L1542.0,976.2 L1543.5,976.2 L1545.0,976.2 L1546.6,976.2 L1548.1,976.2 L1549.6,976.2 L1551.2,976.2 L1552.7,976.2 L1554.2,976.2 L1555.8,976.2 L1557.3,976.2 L1558.8,976.2 L1560.3,976.2 L1561.9,976.2 L1563.4,976.2 L1564.9,976.2 L1565.0,976.2" stroke="#000000" stroke-width="6.1" shape-rendering="crispEdges"/>
</g>
<text x="310.52" y="1159.2" class="tk" font-size="53.5" textLength="55.90" lengthAdjust="spacingAndGlyphs">10</text>
<text x="614.78" y="1159.2" class="tk" font-size="53.5" textLength="57.28" lengthAdjust="spacingAndGlyphs">20</text>
<text x="922.00" y="1159.2" class="tk" font-size="53.5" textLength="57.32" lengthAdjust="spacingAndGlyphs">30</text>
<text x="1229.02" y="1159.2" class="tk" font-size="53.5" textLength="57.43" lengthAdjust="spacingAndGlyphs">40</text>
<text x="1535.38" y="1159.2" class="tk" font-size="53.5" textLength="57.12" lengthAdjust="spacingAndGlyphs">50</text>
<g filter="url(#soft2)">
<text transform="translate(0 353.90) scale(1 1.045)" x="1143.57" y="0" class="lg" font-size="47.3" textLength="389.45" lengthAdjust="spacing">Simulated Rsg-Met</text>
<text transform="translate(0 716.20) scale(1 1.055)" x="1036.17" y="0" class="lg" font-size="48" textLength="498.57" lengthAdjust="spacing">Experimental Rsg-Met</text>
<text transform="translate(0 866.20) scale(1 1.070)" x="1455.60" y="0" class="lg" font-size="51.5" textLength="87.53" lengthAdjust="spacing">Met</text>
<text transform="translate(0 950.00) scale(1 1.015)" x="1459.70" y="0" class="lg" font-size="49" textLength="83.68" lengthAdjust="spacing">Rsg</text>
<text transform="translate(66.0,767.50) rotate(-90) scale(1 1.03)" x="-1.84" y="0" class="ax" font-size="54.5" textLength="345.79" lengthAdjust="spacing">Intensity (cps)</text>
</g>
<text x="788.3" y="1257.8" class="ax" font-size="55">2<tspan x="815.7" font-size="50" font-weight="normal" textLength="28.74" lengthAdjust="spacingAndGlyphs">θ</tspan><tspan x="857.5" font-size="54" font-weight="normal"> (°)</tspan></text>
</svg>
</body>
</html>
